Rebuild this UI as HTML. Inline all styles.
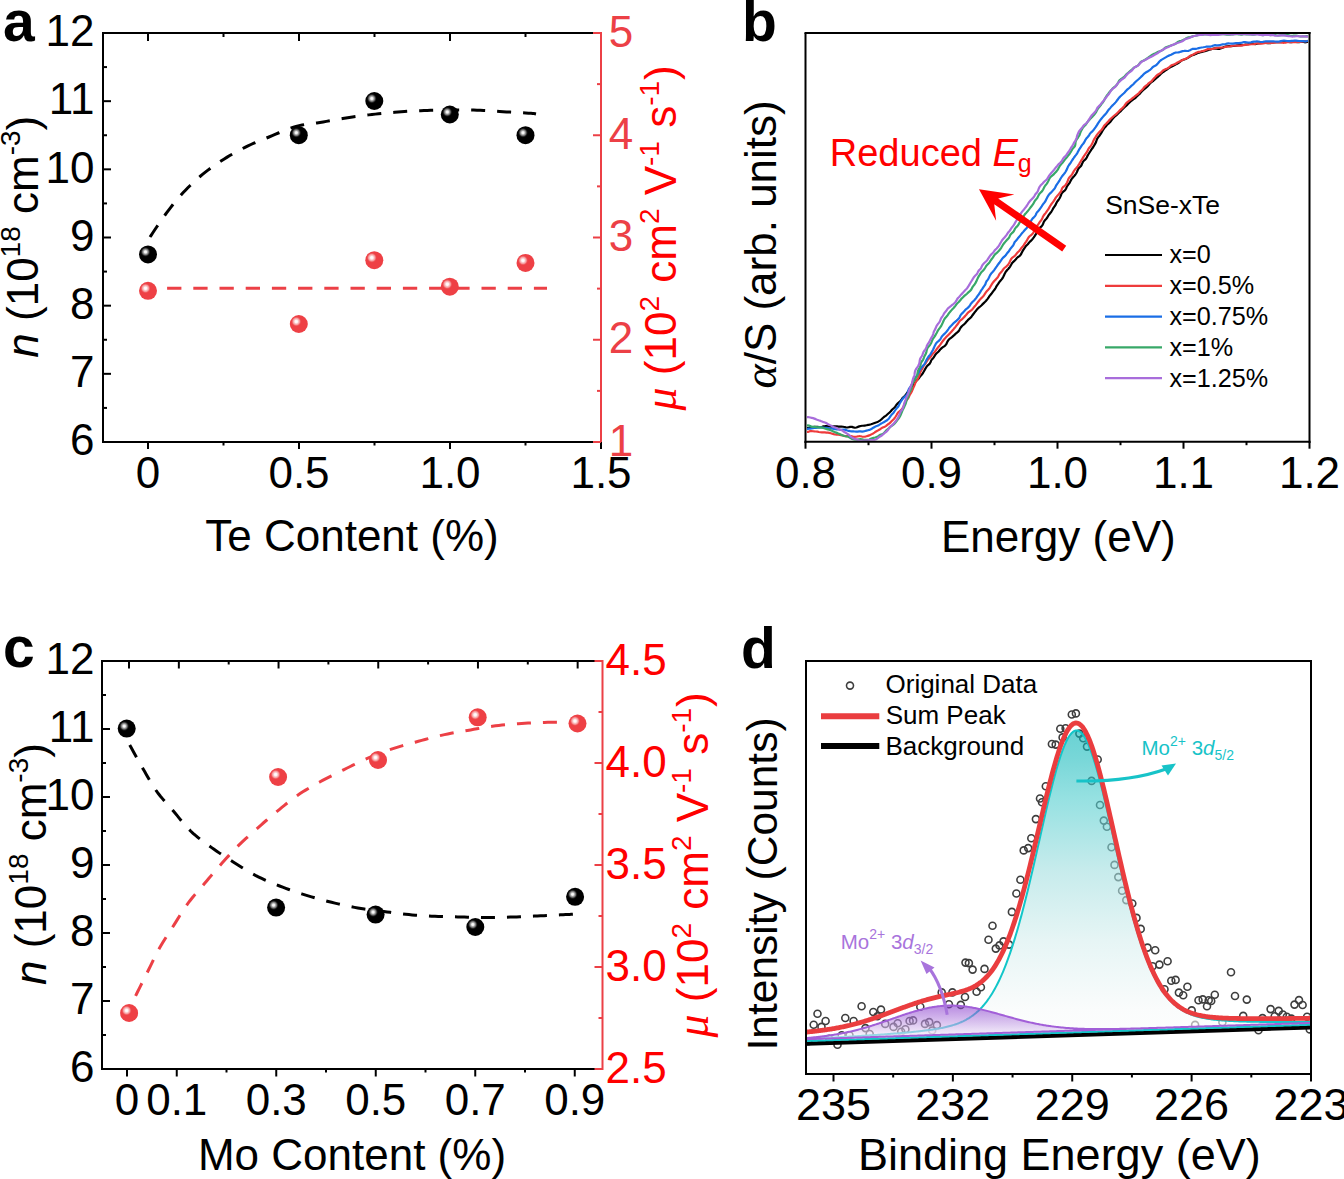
<!DOCTYPE html>
<html><head><meta charset="utf-8"><style>html,body{margin:0;padding:0;background:#fff;}svg{display:block;}</style></head>
<body><svg width="1344" height="1179" viewBox="0 0 1344 1179" font-family='"Liberation Sans", sans-serif'>
<rect width="1344" height="1179" fill="#fff"/>
<defs>
<radialGradient id="hb" cx="0.5" cy="0.5" r="0.5"><stop offset="0" stop-color="#ffffff" stop-opacity="1"/><stop offset="0.22" stop-color="#f0f0f0" stop-opacity="1"/><stop offset="0.6" stop-color="#909090" stop-opacity="0.75"/><stop offset="1" stop-color="#000000" stop-opacity="0"/></radialGradient>
<radialGradient id="hr" cx="0.5" cy="0.5" r="0.5"><stop offset="0" stop-color="#ffffff" stop-opacity="1"/><stop offset="0.25" stop-color="#ffffff" stop-opacity="0.95"/><stop offset="0.65" stop-color="#fbd0d0" stop-opacity="0.6"/><stop offset="1" stop-color="#ee4045" stop-opacity="0"/></radialGradient>
<linearGradient id="gcy" x1="0" y1="0" x2="0" y2="1"><stop offset="0" stop-color="rgb(5,180,182)" stop-opacity="0.6"/><stop offset="0.09" stop-color="rgb(30,188,190)" stop-opacity="0.6"/><stop offset="0.22" stop-color="rgb(80,205,206)" stop-opacity="0.6"/><stop offset="0.447" stop-color="rgb(160,222,223)" stop-opacity="0.6"/><stop offset="0.673" stop-color="rgb(213,238,238)" stop-opacity="0.6"/><stop offset="0.9" stop-color="rgb(247,250,250)" stop-opacity="0.6"/><stop offset="1" stop-color="rgb(252,253,253)" stop-opacity="0.6"/></linearGradient>
<linearGradient id="gpu" x1="0" y1="0" x2="0" y2="1"><stop offset="0" stop-color="#8232ca" stop-opacity="0.56"/><stop offset="1" stop-color="#ffffff" stop-opacity="0.6"/></linearGradient>
<clipPath id="clipb"><rect x="806.5" y="34" width="502" height="406.7"/></clipPath>
<clipPath id="clipd"><rect x="807" y="662" width="503" height="411"/></clipPath>
</defs>
<line x1="102.00" y1="33.00" x2="601.00" y2="33.00" stroke="#000" stroke-width="2" />
<line x1="103.00" y1="33.00" x2="103.00" y2="443.00" stroke="#000" stroke-width="2" />
<line x1="102.00" y1="442.00" x2="601.00" y2="442.00" stroke="#000" stroke-width="2" />
<line x1="601.00" y1="32.00" x2="601.00" y2="443.00" stroke="#ec4046" stroke-width="2" />
<line x1="148.00" y1="442.00" x2="148.00" y2="449.00" stroke="#000" stroke-width="2" />
<line x1="148.00" y1="33.00" x2="148.00" y2="41.00" stroke="#000" stroke-width="2" />
<line x1="223.50" y1="442.00" x2="223.50" y2="445.50" stroke="#000" stroke-width="2" />
<line x1="223.50" y1="33.00" x2="223.50" y2="37.00" stroke="#000" stroke-width="2" />
<line x1="299.00" y1="442.00" x2="299.00" y2="449.00" stroke="#000" stroke-width="2" />
<line x1="299.00" y1="33.00" x2="299.00" y2="41.00" stroke="#000" stroke-width="2" />
<line x1="374.50" y1="442.00" x2="374.50" y2="445.50" stroke="#000" stroke-width="2" />
<line x1="374.50" y1="33.00" x2="374.50" y2="37.00" stroke="#000" stroke-width="2" />
<line x1="450.00" y1="442.00" x2="450.00" y2="449.00" stroke="#000" stroke-width="2" />
<line x1="450.00" y1="33.00" x2="450.00" y2="41.00" stroke="#000" stroke-width="2" />
<line x1="525.50" y1="442.00" x2="525.50" y2="445.50" stroke="#000" stroke-width="2" />
<line x1="525.50" y1="33.00" x2="525.50" y2="37.00" stroke="#000" stroke-width="2" />
<line x1="601.00" y1="442.00" x2="601.00" y2="449.00" stroke="#000" stroke-width="2" />
<line x1="103.00" y1="407.92" x2="107.00" y2="407.92" stroke="#000" stroke-width="2" />
<line x1="103.00" y1="373.83" x2="111.00" y2="373.83" stroke="#000" stroke-width="2" />
<line x1="103.00" y1="339.75" x2="107.00" y2="339.75" stroke="#000" stroke-width="2" />
<line x1="103.00" y1="305.67" x2="111.00" y2="305.67" stroke="#000" stroke-width="2" />
<line x1="103.00" y1="271.58" x2="107.00" y2="271.58" stroke="#000" stroke-width="2" />
<line x1="103.00" y1="237.50" x2="111.00" y2="237.50" stroke="#000" stroke-width="2" />
<line x1="103.00" y1="203.42" x2="107.00" y2="203.42" stroke="#000" stroke-width="2" />
<line x1="103.00" y1="169.33" x2="111.00" y2="169.33" stroke="#000" stroke-width="2" />
<line x1="103.00" y1="135.25" x2="107.00" y2="135.25" stroke="#000" stroke-width="2" />
<line x1="103.00" y1="101.17" x2="111.00" y2="101.17" stroke="#000" stroke-width="2" />
<line x1="103.00" y1="67.08" x2="107.00" y2="67.08" stroke="#000" stroke-width="2" />
<line x1="601.00" y1="442.00" x2="593.00" y2="442.00" stroke="#ec4046" stroke-width="2" />
<line x1="601.00" y1="390.88" x2="597.00" y2="390.88" stroke="#ec4046" stroke-width="2" />
<line x1="601.00" y1="339.75" x2="593.00" y2="339.75" stroke="#ec4046" stroke-width="2" />
<line x1="601.00" y1="288.62" x2="597.00" y2="288.62" stroke="#ec4046" stroke-width="2" />
<line x1="601.00" y1="237.50" x2="593.00" y2="237.50" stroke="#ec4046" stroke-width="2" />
<line x1="601.00" y1="186.38" x2="597.00" y2="186.38" stroke="#ec4046" stroke-width="2" />
<line x1="601.00" y1="135.25" x2="593.00" y2="135.25" stroke="#ec4046" stroke-width="2" />
<line x1="601.00" y1="84.12" x2="597.00" y2="84.12" stroke="#ec4046" stroke-width="2" />
<line x1="601.00" y1="33.00" x2="593.00" y2="33.00" stroke="#ec4046" stroke-width="2" />
<text x="94.50" y="455.30" font-size="44" text-anchor="end" fill="#000" >6</text>
<text x="94.50" y="387.13" font-size="44" text-anchor="end" fill="#000" >7</text>
<text x="94.50" y="318.97" font-size="44" text-anchor="end" fill="#000" >8</text>
<text x="94.50" y="250.80" font-size="44" text-anchor="end" fill="#000" >9</text>
<text x="94.50" y="182.63" font-size="44" text-anchor="end" fill="#000" >10</text>
<text x="94.50" y="114.47" font-size="44" text-anchor="end" fill="#000" >11</text>
<text x="94.50" y="46.30" font-size="44" text-anchor="end" fill="#000" >12</text>
<text x="608.70" y="455.60" font-size="44" text-anchor="start" fill="#ec4046" >1</text>
<text x="608.70" y="353.35" font-size="44" text-anchor="start" fill="#ec4046" >2</text>
<text x="608.70" y="251.10" font-size="44" text-anchor="start" fill="#ec4046" >3</text>
<text x="608.70" y="148.85" font-size="44" text-anchor="start" fill="#ec4046" >4</text>
<text x="608.70" y="46.60" font-size="44" text-anchor="start" fill="#ec4046" >5</text>
<text x="148.00" y="487.80" font-size="44" text-anchor="middle" fill="#000" >0</text>
<text x="299.00" y="487.80" font-size="44" text-anchor="middle" fill="#000" >0.5</text>
<text x="450.00" y="487.80" font-size="44" text-anchor="middle" fill="#000" >1.0</text>
<text x="601.00" y="487.80" font-size="44" text-anchor="middle" fill="#000" >1.5</text>
<text x="352.00" y="551.00" font-size="44" text-anchor="middle" fill="#000" >Te Content (%)</text>
<text transform="translate(38.3,357.7) rotate(-90)" font-size="44" fill="#000"><tspan font-style="italic">n</tspan> (10<tspan font-size="28" dy="-18.5">18</tspan><tspan dy="18.5"> cm</tspan><tspan font-size="28" dy="-18.5">-3</tspan><tspan dy="18.5">)</tspan></text>
<text transform="translate(676.3,410.5) rotate(-90)" font-size="44" fill="#ff0000"><tspan font-family="Liberation Serif" font-style="italic" font-size="46">μ</tspan> (10<tspan font-size="28" dy="-17.5">2</tspan><tspan dx="1" dy="17.5"> cm</tspan><tspan font-size="28" dy="-17.5">2</tspan><tspan dx="1" dy="17.5"> V</tspan><tspan font-size="28" dy="-17.5">-1</tspan><tspan dx="1" dy="17.5"> s</tspan><tspan font-size="28" dy="-17.5">-1</tspan><tspan dx="1" dy="17.5">)</tspan></text>
<text x="3.00" y="41.00" font-size="57" text-anchor="start" fill="#000" font-weight="bold">a</text>
<path d="M150.00,237.00 L151.15,235.29 L152.67,233.00 L154.48,230.27 L156.50,227.25 L158.64,224.07 L160.83,220.88 L162.97,217.80 L165.00,215.00 L166.93,212.39 L168.86,209.82 L170.79,207.29 L172.75,204.78 L174.74,202.30 L176.77,199.85 L178.85,197.41 L181.00,195.00 L183.22,192.60 L185.49,190.20 L187.82,187.82 L190.19,185.47 L192.60,183.15 L195.04,180.88 L197.51,178.66 L200.00,176.50 L202.51,174.41 L205.04,172.37 L207.60,170.39 L210.19,168.45 L212.82,166.55 L215.49,164.68 L218.22,162.83 L221.00,161.00 L223.86,159.18 L226.79,157.37 L229.78,155.58 L232.81,153.82 L235.87,152.11 L238.93,150.44 L241.98,148.84 L245.00,147.30 L247.98,145.85 L250.93,144.49 L253.87,143.20 L256.81,141.96 L259.78,140.74 L262.79,139.52 L265.86,138.28 L269.00,137.00 L272.25,135.64 L275.61,134.21 L279.04,132.75 L282.50,131.30 L285.96,129.90 L289.39,128.59 L292.75,127.41 L296.00,126.40 L299.13,125.60 L302.16,124.97 L305.13,124.47 L308.06,124.07 L310.99,123.71 L313.93,123.36 L316.92,122.97 L320.00,122.50 L323.15,121.96 L326.36,121.39 L329.60,120.81 L332.88,120.22 L336.16,119.64 L339.45,119.07 L342.74,118.52 L346.00,118.00 L349.25,117.51 L352.50,117.03 L355.75,116.57 L359.00,116.12 L362.25,115.70 L365.50,115.28 L368.75,114.88 L372.00,114.50 L375.25,114.13 L378.50,113.78 L381.75,113.45 L385.00,113.12 L388.25,112.82 L391.50,112.53 L394.75,112.26 L398.00,112.00 L401.25,111.76 L404.50,111.53 L407.75,111.32 L411.00,111.12 L414.25,110.95 L417.50,110.78 L420.75,110.63 L424.00,110.50 L427.24,110.38 L430.48,110.29 L433.71,110.21 L436.94,110.14 L440.18,110.09 L443.43,110.05 L446.70,110.02 L450.00,110.00 L453.33,109.98 L456.70,109.97 L460.10,109.97 L463.50,109.97 L466.90,110.00 L470.30,110.04 L473.67,110.11 L477.00,110.20 L480.28,110.32 L483.52,110.48 L486.74,110.66 L489.94,110.86 L493.15,111.07 L496.38,111.29 L499.66,111.50 L503.00,111.70 L506.56,111.90 L510.40,112.11 L514.36,112.33 L518.31,112.55 L522.10,112.76 L525.57,112.96 L528.59,113.14 L531.00,113.30 L532.76,113.44 L533.98,113.55 L534.78,113.66 L535.25,113.75 L535.50,113.83 L535.64,113.90 L535.77,113.95 L536.00,114.00" fill="none" stroke="#000" stroke-width="3" stroke-dasharray="14 12"/>
<path d="M140.9,288.3 L547,288.3" fill="none" stroke="#ec4046" stroke-width="3" stroke-dasharray="14.3 11.9"/>
<circle cx="148.00" cy="254.40" r="9" fill="#000"/>
<circle cx="145.50" cy="251.90" r="5.2" fill="url(#hb)"/>
<circle cx="298.80" cy="135.20" r="9" fill="#000"/>
<circle cx="296.30" cy="132.70" r="5.2" fill="url(#hb)"/>
<circle cx="374.30" cy="101.00" r="9" fill="#000"/>
<circle cx="371.80" cy="98.50" r="5.2" fill="url(#hb)"/>
<circle cx="449.80" cy="114.50" r="9" fill="#000"/>
<circle cx="447.30" cy="112.00" r="5.2" fill="url(#hb)"/>
<circle cx="525.50" cy="135.20" r="9" fill="#000"/>
<circle cx="523.00" cy="132.70" r="5.2" fill="url(#hb)"/>
<circle cx="148.00" cy="290.80" r="9" fill="#ee4045"/>
<circle cx="145.50" cy="288.30" r="5.2" fill="url(#hr)"/>
<circle cx="298.80" cy="324.00" r="9" fill="#ee4045"/>
<circle cx="296.30" cy="321.50" r="5.2" fill="url(#hr)"/>
<circle cx="374.30" cy="260.20" r="9" fill="#ee4045"/>
<circle cx="371.80" cy="257.70" r="5.2" fill="url(#hr)"/>
<circle cx="449.80" cy="286.70" r="9" fill="#ee4045"/>
<circle cx="447.30" cy="284.20" r="5.2" fill="url(#hr)"/>
<circle cx="525.50" cy="262.90" r="9" fill="#ee4045"/>
<circle cx="523.00" cy="260.40" r="5.2" fill="url(#hr)"/>
<line x1="101.00" y1="661.00" x2="602.50" y2="661.00" stroke="#000" stroke-width="2" />
<line x1="102.00" y1="661.00" x2="102.00" y2="1070.00" stroke="#000" stroke-width="2" />
<line x1="101.00" y1="1069.00" x2="602.50" y2="1069.00" stroke="#000" stroke-width="2" />
<line x1="602.50" y1="660.00" x2="602.50" y2="1070.00" stroke="#ec4046" stroke-width="2" />
<line x1="127.00" y1="1069.00" x2="127.00" y2="1076.50" stroke="#000" stroke-width="2" />
<line x1="129.00" y1="661.00" x2="129.00" y2="668.50" stroke="#000" stroke-width="2" />
<line x1="176.75" y1="1069.00" x2="176.75" y2="1076.50" stroke="#000" stroke-width="2" />
<line x1="178.85" y1="661.00" x2="178.85" y2="668.50" stroke="#000" stroke-width="2" />
<line x1="226.50" y1="1069.00" x2="226.50" y2="1072.50" stroke="#000" stroke-width="2" />
<line x1="228.70" y1="661.00" x2="228.70" y2="664.50" stroke="#000" stroke-width="2" />
<line x1="276.25" y1="1069.00" x2="276.25" y2="1076.50" stroke="#000" stroke-width="2" />
<line x1="278.55" y1="661.00" x2="278.55" y2="668.50" stroke="#000" stroke-width="2" />
<line x1="326.00" y1="1069.00" x2="326.00" y2="1072.50" stroke="#000" stroke-width="2" />
<line x1="328.40" y1="661.00" x2="328.40" y2="664.50" stroke="#000" stroke-width="2" />
<line x1="375.75" y1="1069.00" x2="375.75" y2="1076.50" stroke="#000" stroke-width="2" />
<line x1="378.25" y1="661.00" x2="378.25" y2="668.50" stroke="#000" stroke-width="2" />
<line x1="425.50" y1="1069.00" x2="425.50" y2="1072.50" stroke="#000" stroke-width="2" />
<line x1="428.10" y1="661.00" x2="428.10" y2="664.50" stroke="#000" stroke-width="2" />
<line x1="475.25" y1="1069.00" x2="475.25" y2="1076.50" stroke="#000" stroke-width="2" />
<line x1="477.95" y1="661.00" x2="477.95" y2="668.50" stroke="#000" stroke-width="2" />
<line x1="525.00" y1="1069.00" x2="525.00" y2="1072.50" stroke="#000" stroke-width="2" />
<line x1="527.80" y1="661.00" x2="527.80" y2="664.50" stroke="#000" stroke-width="2" />
<line x1="574.75" y1="1069.00" x2="574.75" y2="1076.50" stroke="#000" stroke-width="2" />
<line x1="577.65" y1="661.00" x2="577.65" y2="668.50" stroke="#000" stroke-width="2" />
<line x1="102.00" y1="1035.00" x2="106.00" y2="1035.00" stroke="#000" stroke-width="2" />
<line x1="102.00" y1="1001.00" x2="110.00" y2="1001.00" stroke="#000" stroke-width="2" />
<line x1="102.00" y1="967.00" x2="106.00" y2="967.00" stroke="#000" stroke-width="2" />
<line x1="102.00" y1="933.00" x2="110.00" y2="933.00" stroke="#000" stroke-width="2" />
<line x1="102.00" y1="899.00" x2="106.00" y2="899.00" stroke="#000" stroke-width="2" />
<line x1="102.00" y1="865.00" x2="110.00" y2="865.00" stroke="#000" stroke-width="2" />
<line x1="102.00" y1="831.00" x2="106.00" y2="831.00" stroke="#000" stroke-width="2" />
<line x1="102.00" y1="797.00" x2="110.00" y2="797.00" stroke="#000" stroke-width="2" />
<line x1="102.00" y1="763.00" x2="106.00" y2="763.00" stroke="#000" stroke-width="2" />
<line x1="102.00" y1="729.00" x2="110.00" y2="729.00" stroke="#000" stroke-width="2" />
<line x1="102.00" y1="695.00" x2="106.00" y2="695.00" stroke="#000" stroke-width="2" />
<line x1="602.50" y1="1069.00" x2="594.50" y2="1069.00" stroke="#ec4046" stroke-width="2" />
<line x1="602.50" y1="1018.00" x2="598.50" y2="1018.00" stroke="#ec4046" stroke-width="2" />
<line x1="602.50" y1="967.00" x2="594.50" y2="967.00" stroke="#ec4046" stroke-width="2" />
<line x1="602.50" y1="916.00" x2="598.50" y2="916.00" stroke="#ec4046" stroke-width="2" />
<line x1="602.50" y1="865.00" x2="594.50" y2="865.00" stroke="#ec4046" stroke-width="2" />
<line x1="602.50" y1="814.00" x2="598.50" y2="814.00" stroke="#ec4046" stroke-width="2" />
<line x1="602.50" y1="763.00" x2="594.50" y2="763.00" stroke="#ec4046" stroke-width="2" />
<line x1="602.50" y1="712.00" x2="598.50" y2="712.00" stroke="#ec4046" stroke-width="2" />
<line x1="602.50" y1="661.00" x2="594.50" y2="661.00" stroke="#ec4046" stroke-width="2" />
<text x="94.50" y="1082.30" font-size="44" text-anchor="end" fill="#000" >6</text>
<text x="94.50" y="1014.30" font-size="44" text-anchor="end" fill="#000" >7</text>
<text x="94.50" y="946.30" font-size="44" text-anchor="end" fill="#000" >8</text>
<text x="94.50" y="878.30" font-size="44" text-anchor="end" fill="#000" >9</text>
<text x="94.50" y="810.30" font-size="44" text-anchor="end" fill="#000" >10</text>
<text x="94.50" y="742.30" font-size="44" text-anchor="end" fill="#000" >11</text>
<text x="94.50" y="674.30" font-size="44" text-anchor="end" fill="#000" >12</text>
<text x="605.50" y="1082.50" font-size="44" text-anchor="start" fill="#ff0000" >2.5</text>
<text x="605.50" y="980.50" font-size="44" text-anchor="start" fill="#ff0000" >3.0</text>
<text x="605.50" y="878.50" font-size="44" text-anchor="start" fill="#ff0000" >3.5</text>
<text x="605.50" y="776.50" font-size="44" text-anchor="start" fill="#ff0000" >4.0</text>
<text x="605.50" y="674.50" font-size="44" text-anchor="start" fill="#ff0000" >4.5</text>
<text x="127.00" y="1115.00" font-size="44" text-anchor="middle" fill="#000" >0</text>
<text x="176.75" y="1115.00" font-size="44" text-anchor="middle" fill="#000" >0.1</text>
<text x="276.25" y="1115.00" font-size="44" text-anchor="middle" fill="#000" >0.3</text>
<text x="375.75" y="1115.00" font-size="44" text-anchor="middle" fill="#000" >0.5</text>
<text x="475.25" y="1115.00" font-size="44" text-anchor="middle" fill="#000" >0.7</text>
<text x="574.75" y="1115.00" font-size="44" text-anchor="middle" fill="#000" >0.9</text>
<text x="352.00" y="1170.00" font-size="44" text-anchor="middle" fill="#000" >Mo Content (%)</text>
<text transform="translate(46.3,985) rotate(-90)" font-size="44" fill="#000"><tspan font-style="italic">n</tspan> (10<tspan font-size="28" dy="-18.5">18</tspan><tspan dy="18.5"> cm</tspan><tspan font-size="28" dy="-18.5">-3</tspan><tspan dy="18.5">)</tspan></text>
<text transform="translate(708,1037.5) rotate(-90)" font-size="44" fill="#ff0000"><tspan font-family="Liberation Serif" font-style="italic" font-size="46">μ</tspan> (10<tspan font-size="28" dy="-17.5">2</tspan><tspan dx="1" dy="17.5"> cm</tspan><tspan font-size="28" dy="-17.5">2</tspan><tspan dx="1" dy="17.5"> V</tspan><tspan font-size="28" dy="-17.5">-1</tspan><tspan dx="1" dy="17.5"> s</tspan><tspan font-size="28" dy="-17.5">-1</tspan><tspan dx="1" dy="17.5">)</tspan></text>
<text x="3.00" y="667.00" font-size="57" text-anchor="start" fill="#000" font-weight="bold">c</text>
<path d="M129.70,745.00 L130.73,746.84 L132.09,749.29 L133.71,752.21 L135.51,755.46 L137.42,758.87 L139.36,762.32 L141.24,765.64 L143.00,768.70 L144.65,771.58 L146.28,774.45 L147.89,777.30 L149.51,780.13 L151.16,782.93 L152.84,785.68 L154.59,788.37 L156.40,791.00 L158.29,793.54 L160.23,795.98 L162.23,798.36 L164.27,800.69 L166.34,803.02 L168.44,805.36 L170.57,807.74 L172.70,810.20 L174.84,812.75 L177.00,815.39 L179.17,818.08 L181.37,820.78 L183.61,823.45 L185.89,826.07 L188.22,828.60 L190.60,831.00 L193.04,833.27 L195.54,835.45 L198.09,837.54 L200.67,839.58 L203.30,841.56 L205.95,843.52 L208.62,845.46 L211.30,847.40 L214.01,849.34 L216.76,851.25 L219.55,853.13 L222.35,854.99 L225.17,856.82 L227.99,858.64 L230.80,860.43 L233.60,862.20 L236.38,863.96 L239.14,865.72 L241.90,867.46 L244.66,869.18 L247.43,870.86 L250.23,872.49 L253.05,874.08 L255.90,875.60 L258.78,877.05 L261.69,878.45 L264.61,879.79 L267.56,881.08 L270.53,882.34 L273.53,883.58 L276.55,884.79 L279.60,886.00 L282.68,887.19 L285.78,888.37 L288.91,889.51 L292.06,890.64 L295.24,891.74 L298.44,892.82 L301.66,893.87 L304.90,894.90 L308.17,895.91 L311.49,896.90 L314.83,897.86 L318.19,898.80 L321.56,899.72 L324.93,900.60 L328.28,901.47 L331.60,902.30 L334.90,903.11 L338.19,903.90 L341.47,904.66 L344.74,905.39 L348.00,906.10 L351.27,906.77 L354.53,907.40 L357.80,908.00 L361.07,908.55 L364.36,909.04 L367.64,909.49 L370.93,909.91 L374.20,910.31 L377.45,910.70 L380.69,911.10 L383.90,911.50 L387.07,911.92 L390.20,912.34 L393.31,912.75 L396.40,913.16 L399.49,913.56 L402.60,913.93 L405.73,914.28 L408.90,914.60 L412.11,914.89 L415.35,915.15 L418.61,915.38 L421.88,915.60 L425.16,915.80 L428.45,915.98 L431.73,916.14 L435.00,916.30 L438.26,916.44 L441.52,916.55 L444.79,916.64 L448.05,916.72 L451.31,916.80 L454.57,916.86 L457.84,916.93 L461.10,917.00 L464.36,917.08 L467.62,917.16 L470.89,917.25 L474.15,917.33 L477.41,917.39 L480.68,917.45 L483.94,917.49 L487.20,917.50 L490.45,917.49 L493.70,917.46 L496.93,917.42 L500.17,917.36 L503.42,917.28 L506.69,917.20 L509.98,917.10 L513.30,917.00 L516.67,916.88 L520.09,916.75 L523.55,916.60 L527.02,916.44 L530.48,916.28 L533.91,916.12 L537.29,915.95 L540.60,915.80 L543.93,915.65 L547.35,915.49 L550.77,915.32 L554.14,915.16 L557.37,915.01 L560.41,914.86 L563.18,914.72 L565.60,914.60 L567.69,914.49 L569.53,914.39 L571.13,914.30 L572.51,914.23 L573.70,914.15 L574.71,914.09 L575.57,914.04 L576.30,914.00" fill="none" stroke="#000" stroke-width="3" stroke-dasharray="14 12"/>
<path d="M135.60,995.80 L136.52,993.96 L137.74,991.52 L139.19,988.61 L140.81,985.38 L142.51,981.96 L144.25,978.50 L145.93,975.13 L147.50,972.00 L148.97,969.03 L150.41,966.07 L151.84,963.11 L153.27,960.14 L154.73,957.18 L156.22,954.22 L157.77,951.26 L159.40,948.30 L161.12,945.32 L162.93,942.31 L164.80,939.29 L166.71,936.27 L168.63,933.28 L170.53,930.32 L172.40,927.42 L174.20,924.60 L175.93,921.84 L177.62,919.13 L179.27,916.46 L180.90,913.83 L182.53,911.25 L184.18,908.72 L185.87,906.24 L187.60,903.80 L189.36,901.45 L191.13,899.21 L192.92,897.04 L194.72,894.90 L196.57,892.76 L198.46,890.59 L200.40,888.35 L202.40,886.00 L204.49,883.52 L206.67,880.94 L208.92,878.29 L211.20,875.60 L213.50,872.91 L215.78,870.26 L218.02,867.68 L220.20,865.20 L222.30,862.83 L224.33,860.54 L226.33,858.31 L228.31,856.12 L230.30,853.95 L232.33,851.79 L234.42,849.61 L236.60,847.40 L238.86,845.17 L241.19,842.93 L243.56,840.69 L245.97,838.45 L248.43,836.21 L250.90,833.97 L253.40,831.73 L255.90,829.50 L258.43,827.26 L261.00,825.01 L263.59,822.75 L266.21,820.50 L268.84,818.26 L271.47,816.04 L274.09,813.85 L276.70,811.70 L279.28,809.57 L281.84,807.45 L284.40,805.35 L286.96,803.28 L289.52,801.23 L292.11,799.24 L294.74,797.29 L297.40,795.40 L300.10,793.58 L302.82,791.82 L305.57,790.11 L308.35,788.44 L311.15,786.81 L313.97,785.20 L316.82,783.60 L319.70,782.00 L322.60,780.42 L325.54,778.86 L328.50,777.32 L331.49,775.81 L334.49,774.30 L337.52,772.80 L340.55,771.30 L343.60,769.80 L346.67,768.28 L349.78,766.74 L352.92,765.19 L356.06,763.65 L359.21,762.14 L362.34,760.66 L365.44,759.25 L368.50,757.90 L371.50,756.63 L374.45,755.41 L377.37,754.25 L380.27,753.13 L383.18,752.05 L386.13,750.98 L389.13,749.94 L392.20,748.90 L395.36,747.88 L398.58,746.88 L401.85,745.91 L405.15,744.96 L408.47,744.02 L411.80,743.10 L415.11,742.20 L418.40,741.30 L421.67,740.41 L424.93,739.51 L428.19,738.63 L431.46,737.77 L434.72,736.93 L437.98,736.11 L441.24,735.34 L444.50,734.60 L447.77,733.91 L451.05,733.27 L454.34,732.66 L457.63,732.09 L460.90,731.53 L464.16,730.99 L467.39,730.45 L470.60,729.90 L473.76,729.35 L476.88,728.79 L479.97,728.24 L483.05,727.70 L486.13,727.18 L489.22,726.68 L492.34,726.22 L495.50,725.80 L498.70,725.42 L501.94,725.07 L505.20,724.76 L508.47,724.47 L511.75,724.20 L515.04,723.96 L518.32,723.72 L521.60,723.50 L524.85,723.29 L528.07,723.09 L531.29,722.91 L534.51,722.74 L537.75,722.60 L541.04,722.48 L544.38,722.38 L547.80,722.30 L551.51,722.26 L555.57,722.26 L559.81,722.28 L564.04,722.32 L568.06,722.38 L571.68,722.43 L574.73,722.47 L577.00,722.50" fill="none" stroke="#ec4046" stroke-width="3" stroke-dasharray="14 12"/>
<circle cx="126.70" cy="728.60" r="9" fill="#000"/>
<circle cx="124.20" cy="726.10" r="5.2" fill="url(#hb)"/>
<circle cx="276.10" cy="907.60" r="9" fill="#000"/>
<circle cx="273.60" cy="905.10" r="5.2" fill="url(#hb)"/>
<circle cx="375.60" cy="914.60" r="9" fill="#000"/>
<circle cx="373.10" cy="912.10" r="5.2" fill="url(#hb)"/>
<circle cx="475.30" cy="927.00" r="9" fill="#000"/>
<circle cx="472.80" cy="924.50" r="5.2" fill="url(#hb)"/>
<circle cx="575.10" cy="896.80" r="9" fill="#000"/>
<circle cx="572.60" cy="894.30" r="5.2" fill="url(#hb)"/>
<circle cx="129.10" cy="1013.00" r="9" fill="#ee4045"/>
<circle cx="126.60" cy="1010.50" r="5.2" fill="url(#hr)"/>
<circle cx="278.10" cy="777.00" r="9" fill="#ee4045"/>
<circle cx="275.60" cy="774.50" r="5.2" fill="url(#hr)"/>
<circle cx="378.00" cy="760.00" r="9" fill="#ee4045"/>
<circle cx="375.50" cy="757.50" r="5.2" fill="url(#hr)"/>
<circle cx="477.70" cy="717.30" r="9" fill="#ee4045"/>
<circle cx="475.20" cy="714.80" r="5.2" fill="url(#hr)"/>
<circle cx="577.50" cy="723.50" r="9" fill="#ee4045"/>
<circle cx="575.00" cy="721.00" r="5.2" fill="url(#hr)"/>
<g clip-path="url(#clipb)">
<path d="M806.99,428.04 L807.86,427.96 L808.94,427.71 L810.19,427.39 L811.57,427.24 L813.02,427.11 L814.49,426.85 L815.98,426.75 L817.49,426.92 L819.01,427.10 L820.51,427.04 L821.99,426.77 L823.47,426.45 L824.96,426.22 L826.47,426.17 L827.98,426.29 L829.48,426.48 L830.97,426.54 L832.47,426.44 L833.97,426.35 L835.48,426.36 L836.98,426.44 L838.48,426.55 L839.98,426.63 L841.49,426.66 L842.99,426.75 L844.46,427.01 L845.94,427.38 L847.43,427.49 L848.94,427.17 L850.43,426.81 L851.91,426.88 L853.41,427.41 L854.94,427.76 L856.41,427.47 L857.84,426.90 L859.25,426.41 L860.69,426.02 L862.16,425.75 L863.69,425.67 L865.20,425.55 L866.67,425.21 L868.13,424.87 L869.60,424.57 L871.06,424.21 L872.50,423.77 L873.90,423.24 L875.29,422.69 L876.71,422.22 L878.10,421.67 L879.38,420.90 L880.59,420.02 L881.75,419.08 L882.83,418.03 L883.95,417.03 L885.19,416.19 L886.42,415.31 L887.52,414.29 L888.62,413.26 L889.77,412.29 L890.81,411.22 L891.77,410.05 L892.82,408.97 L893.97,408.00 L895.04,406.95 L895.92,405.71 L896.77,404.45 L897.79,403.35 L898.93,402.36 L900.08,401.38 L901.06,400.24 L901.90,398.99 L902.83,397.80 L903.90,396.74 L905.03,395.73 L906.03,394.60 L906.85,393.33 L907.66,392.06 L908.56,390.86 L909.41,389.62 L910.20,388.33 L911.16,387.17 L912.24,386.11 L913.20,384.95 L914.05,383.71 L914.88,382.45 L915.83,381.29 L916.93,380.24 L918.03,379.18 L918.98,378.02 L919.85,376.79 L920.82,375.64 L921.86,374.54 L922.74,373.33 L923.51,372.02 L924.26,370.71 L925.00,369.38 L925.75,368.07 L926.53,366.78 L927.47,365.61 L928.66,364.61 L929.78,363.57 L930.51,362.25 L931.05,360.78 L931.85,359.50 L932.90,358.40 L933.84,357.23 L934.64,355.95 L935.43,354.65 L936.40,353.49 L937.53,352.48 L938.62,351.43 L939.59,350.27 L940.57,349.13 L941.67,348.10 L942.88,347.17 L944.18,346.32 L945.37,345.39 L946.28,344.18 L946.93,342.74 L947.60,341.31 L948.44,340.03 L949.49,338.95 L950.71,338.04 L951.92,337.11 L953.04,336.11 L954.17,335.11 L955.27,334.08 L956.38,333.06 L957.55,332.11 L958.65,331.08 L959.47,329.79 L960.17,328.37 L961.03,327.12 L962.07,326.03 L963.20,325.03 L964.36,324.06 L965.41,322.99 L966.38,321.83 L967.35,320.68 L968.35,319.56 L969.51,318.59 L970.70,317.65 L971.66,316.49 L972.52,315.23 L973.42,314.02 L974.32,312.81 L975.26,311.64 L976.20,310.46 L977.11,309.25 L978.15,308.17 L979.34,307.22 L980.50,306.24 L981.61,305.21 L982.67,304.15 L983.75,303.10 L984.85,302.06 L985.88,300.96 L986.86,299.83 L987.81,298.66 L988.64,297.39 L989.44,296.10 L990.39,294.94 L991.38,293.81 L992.25,292.59 L993.11,291.35 L994.06,290.19 L995.01,289.02 L995.76,287.72 L996.43,286.36 L997.27,285.12 L998.16,283.91 L998.97,282.64 L999.84,281.41 L1000.85,280.28 L1001.86,279.14 L1002.71,277.90 L1003.41,276.57 L1004.05,275.19 L1004.68,273.80 L1005.41,272.47 L1006.24,271.22 L1007.17,270.03 L1008.21,268.93 L1009.21,267.80 L1010.07,266.56 L1010.86,265.27 L1011.60,263.94 L1012.43,262.68 L1013.50,261.61 L1014.67,260.61 L1015.68,259.50 L1016.60,258.31 L1017.71,257.28 L1019.03,256.41 L1020.23,255.45 L1021.06,254.19 L1021.71,252.78 L1022.40,251.40 L1023.16,250.09 L1023.98,248.82 L1024.81,247.56 L1025.69,246.35 L1026.73,245.25 L1027.80,244.19 L1028.75,243.02 L1029.70,241.86 L1030.83,240.83 L1031.94,239.79 L1032.89,238.62 L1033.80,237.41 L1034.64,236.17 L1035.42,234.88 L1036.20,233.59 L1036.95,232.28 L1037.73,230.99 L1038.57,229.74 L1039.38,228.48 L1040.35,227.32 L1041.55,226.32 L1042.50,225.14 L1043.09,223.73 L1043.65,222.30 L1044.39,220.98 L1045.38,219.84 L1046.43,218.73 L1047.29,217.50 L1048.03,216.19 L1048.85,214.93 L1049.76,213.72 L1050.71,212.55 L1051.60,211.34 L1052.33,210.02 L1053.03,208.68 L1053.87,207.44 L1054.76,206.22 L1055.54,204.93 L1056.16,203.55 L1056.83,202.19 L1057.71,200.96 L1058.63,199.77 L1059.43,198.50 L1060.16,197.18 L1060.76,195.78 L1061.26,194.32 L1061.96,192.98 L1063.04,191.89 L1064.30,190.91 L1065.38,189.82 L1066.10,188.50 L1066.68,187.08 L1067.38,185.74 L1068.29,184.54 L1069.23,183.36 L1070.00,182.07 L1070.68,180.72 L1071.41,179.40 L1072.28,178.17 L1073.28,177.03 L1074.34,175.93 L1075.29,174.76 L1076.11,173.50 L1076.86,172.19 L1077.46,170.79 L1078.01,169.34 L1078.83,168.09 L1079.98,167.05 L1081.02,165.93 L1081.74,164.61 L1082.33,163.19 L1082.98,161.82 L1083.92,160.64 L1085.11,159.63 L1086.16,158.52 L1086.87,157.19 L1087.52,155.82 L1088.28,154.52 L1089.07,153.25 L1089.89,151.99 L1090.70,150.72 L1091.49,149.45 L1092.38,148.23 L1093.25,147.00 L1094.02,145.71 L1094.78,144.41 L1095.55,143.12 L1096.15,141.73 L1096.58,140.26 L1097.12,138.84 L1097.94,137.57 L1098.91,136.39 L1099.84,135.20 L1100.70,133.97 L1101.45,132.67 L1102.17,131.35 L1102.92,130.04 L1103.76,128.79 L1104.73,127.64 L1105.73,126.51 L1106.65,125.32 L1107.68,124.23 L1108.88,123.28 L1110.00,122.27 L1110.91,121.07 L1111.79,119.83 L1112.74,118.66 L1113.73,117.52 L1114.80,116.46 L1115.99,115.53 L1117.13,114.55 L1118.15,113.44 L1119.27,112.44 L1120.43,111.47 L1121.43,110.35 L1122.43,109.21 L1123.47,108.13 L1124.57,107.10 L1125.74,106.16 L1126.89,105.18 L1127.94,104.10 L1128.98,103.02 L1130.07,101.98 L1131.20,100.98 L1132.36,100.03 L1133.61,99.17 L1134.85,98.30 L1135.99,97.32 L1137.06,96.26 L1138.14,95.22 L1139.27,94.23 L1140.33,93.16 L1141.26,91.95 L1142.24,90.80 L1143.37,89.81 L1144.58,88.90 L1145.75,87.95 L1146.87,86.94 L1147.94,85.89 L1148.93,84.75 L1149.88,83.57 L1150.97,82.54 L1152.19,81.63 L1153.41,80.74 L1154.55,79.76 L1155.64,78.72 L1156.74,77.71 L1157.92,76.77 L1159.05,75.79 L1160.08,74.69 L1161.11,73.58 L1162.24,72.59 L1163.48,71.73 L1164.76,70.94 L1166.00,70.10 L1167.23,69.24 L1168.48,68.42 L1169.76,67.64 L1171.05,66.88 L1172.38,66.17 L1173.73,65.52 L1175.06,64.83 L1176.39,64.14 L1177.71,63.43 L1178.97,62.60 L1180.14,61.57 L1181.33,60.58 L1182.69,59.95 L1184.17,59.56 L1185.60,59.05 L1186.93,58.36 L1188.22,57.59 L1189.47,56.73 L1190.73,55.91 L1192.12,55.31 L1193.58,54.87 L1194.99,54.34 L1196.33,53.66 L1197.70,53.04 L1199.14,52.61 L1200.61,52.29 L1202.05,51.88 L1203.48,51.41 L1204.95,51.09 L1206.41,50.74 L1207.81,50.16 L1209.24,49.63 L1210.71,49.31 L1212.18,48.97 L1213.64,48.59 L1215.14,48.43 L1216.71,48.64 L1218.28,48.92 L1219.78,48.81 L1221.22,48.31 L1222.64,47.69 L1224.07,47.08 L1225.51,46.57 L1226.98,46.26 L1228.49,46.13 L1230.01,46.13 L1231.52,46.11 L1233.02,45.98 L1234.52,45.84 L1236.01,45.62 L1237.49,45.35 L1238.98,45.16 L1240.49,45.12 L1242.00,45.14 L1243.50,44.99 L1244.98,44.71 L1246.46,44.47 L1247.95,44.26 L1249.43,43.90 L1250.91,43.55 L1252.43,43.63 L1253.96,43.99 L1255.47,44.06 L1256.96,43.78 L1258.44,43.49 L1259.94,43.27 L1261.42,42.97 L1262.91,42.67 L1264.42,42.61 L1265.93,42.80 L1267.45,43.10 L1268.97,43.28 L1270.47,43.13 L1271.95,42.73 L1273.44,42.40 L1274.94,42.25 L1276.44,42.19 L1277.94,42.16 L1279.45,42.13 L1280.95,42.07 L1282.45,41.93 L1283.94,41.72 L1285.44,41.53 L1286.95,41.52 L1288.46,41.76 L1289.97,42.05 L1291.48,42.15 L1292.98,42.02 L1294.48,41.87 L1295.98,41.99 L1297.49,42.23 L1298.99,42.15 L1300.48,41.84 L1301.96,41.75 L1303.42,42.01 L1304.81,42.28 L1306.08,42.24 L1307.16,41.99 L1308.03,41.85" fill="none" stroke="#000000" stroke-width="2.2" stroke-linejoin="round"/>
<path d="M806.97,431.95 L807.84,431.88 L808.90,431.58 L810.13,431.16 L811.52,431.03 L812.98,431.28 L814.47,431.45 L815.95,431.49 L817.44,431.68 L818.91,432.01 L820.38,432.27 L821.87,432.30 L823.38,432.30 L824.87,432.44 L826.36,432.58 L827.85,432.71 L829.34,432.91 L830.80,433.25 L832.24,433.68 L833.67,434.12 L835.13,434.47 L836.63,434.64 L838.15,434.67 L839.64,434.84 L841.10,435.17 L842.57,435.53 L844.03,435.91 L845.52,436.12 L847.03,436.14 L848.54,436.10 L850.05,436.05 L851.55,436.20 L853.02,436.58 L854.51,436.84 L856.02,436.76 L857.53,436.46 L859.03,436.22 L860.51,436.27 L862.00,436.54 L863.50,436.76 L864.99,436.68 L866.43,436.28 L867.84,435.84 L869.25,435.41 L870.59,434.79 L871.91,434.11 L873.22,433.42 L874.45,432.58 L875.65,431.69 L876.95,430.94 L878.33,430.30 L879.65,429.57 L880.86,428.70 L882.11,427.87 L883.48,427.23 L884.88,426.67 L886.13,425.85 L887.27,424.86 L888.49,423.99 L889.72,423.13 L890.80,422.09 L891.80,420.98 L892.87,419.96 L893.95,418.93 L894.88,417.75 L895.70,416.49 L896.47,415.19 L897.19,413.86 L898.06,412.65 L899.22,411.63 L900.42,410.64 L901.49,409.56 L902.47,408.40 L903.26,407.12 L903.82,405.68 L904.33,404.23 L904.95,402.85 L905.70,401.55 L906.59,400.33 L907.52,399.15 L908.37,397.90 L909.03,396.55 L909.61,395.17 L910.36,393.87 L911.17,392.60 L911.89,391.28 L912.47,389.89 L913.02,388.50 L913.65,387.13 L914.25,385.76 L914.81,384.37 L915.35,382.97 L916.02,381.62 L916.88,380.36 L917.71,379.09 L918.34,377.73 L918.90,376.35 L919.50,374.97 L919.98,373.54 L920.43,372.09 L921.07,370.72 L921.85,369.44 L922.57,368.12 L923.17,366.73 L923.89,365.40 L924.84,364.22 L925.78,363.04 L926.57,361.76 L927.32,360.45 L928.23,359.25 L929.33,358.19 L930.40,357.11 L931.22,355.86 L932.02,354.58 L933.04,353.47 L934.19,352.46 L935.23,351.38 L936.07,350.13 L936.89,348.86 L937.82,347.68 L938.78,346.53 L939.71,345.35 L940.61,344.15 L941.49,342.92 L942.36,341.70 L943.25,340.48 L944.18,339.30 L945.17,338.17 L946.20,337.08 L947.24,335.99 L948.30,334.92 L949.38,333.87 L950.43,332.80 L951.42,331.67 L952.42,330.55 L953.40,329.41 L954.35,328.25 L955.31,327.10 L956.23,325.91 L957.16,324.73 L958.10,323.55 L958.90,322.25 L959.75,321.01 L960.90,320.02 L962.13,319.10 L963.23,318.07 L964.24,316.96 L965.27,315.87 L966.28,314.75 L967.20,313.56 L968.21,312.45 L969.44,311.54 L970.74,310.70 L971.90,309.73 L972.89,308.60 L973.82,307.41 L974.78,306.26 L975.76,305.12 L976.66,303.91 L977.55,302.69 L978.48,301.51 L979.39,300.31 L980.34,299.15 L981.40,298.08 L982.49,297.04 L983.51,295.93 L984.39,294.71 L985.20,293.44 L986.04,292.19 L986.96,291.01 L988.00,289.92 L989.05,288.82 L989.91,287.59 L990.63,286.26 L991.40,284.96 L992.22,283.70 L993.07,282.46 L994.00,281.28 L995.04,280.19 L996.10,279.11 L997.13,278.00 L998.03,276.80 L998.75,275.46 L999.44,274.10 L1000.36,272.92 L1001.45,271.86 L1002.38,270.68 L1003.16,269.38 L1004.13,268.24 L1005.32,267.27 L1006.50,266.30 L1007.57,265.24 L1008.48,264.05 L1009.27,262.75 L1009.98,261.39 L1010.65,259.99 L1011.38,258.64 L1012.42,257.56 L1013.73,256.70 L1014.91,255.73 L1015.87,254.58 L1016.78,253.38 L1017.76,252.24 L1018.88,251.22 L1019.93,250.14 L1020.79,248.90 L1021.64,247.65 L1022.65,246.54 L1023.63,245.40 L1024.41,244.11 L1025.20,242.82 L1026.09,241.61 L1026.94,240.37 L1027.65,239.03 L1028.38,237.71 L1029.32,236.54 L1030.48,235.53 L1031.72,234.56 L1032.81,233.49 L1033.60,232.21 L1034.11,230.74 L1034.57,229.24 L1035.24,227.89 L1036.17,226.70 L1037.24,225.61 L1038.26,224.48 L1039.06,223.21 L1039.85,221.93 L1040.77,220.74 L1041.67,219.54 L1042.37,218.20 L1042.94,216.78 L1043.65,215.45 L1044.59,214.27 L1045.57,213.12 L1046.43,211.89 L1047.30,210.67 L1048.19,209.46 L1048.95,208.16 L1049.66,206.83 L1050.42,205.53 L1051.24,204.28 L1052.15,203.08 L1053.09,201.91 L1053.98,200.69 L1054.76,199.41 L1055.50,198.10 L1056.38,196.88 L1057.38,195.74 L1058.36,194.60 L1059.35,193.45 L1060.34,192.31 L1061.14,191.04 L1061.64,189.57 L1062.20,188.13 L1063.19,186.99 L1064.44,186.02 L1065.57,184.97 L1066.43,183.74 L1067.11,182.39 L1067.68,180.97 L1068.19,179.50 L1068.84,178.13 L1069.77,176.95 L1070.86,175.87 L1071.85,174.73 L1072.63,173.44 L1073.32,172.10 L1074.05,170.78 L1074.91,169.55 L1075.93,168.43 L1076.95,167.30 L1077.82,166.08 L1078.63,164.82 L1079.44,163.55 L1080.18,162.24 L1080.97,160.96 L1081.83,159.73 L1082.59,158.43 L1083.32,157.12 L1084.15,155.86 L1085.01,154.63 L1085.88,153.41 L1086.78,152.21 L1087.55,150.92 L1088.11,149.49 L1088.83,148.17 L1089.84,147.03 L1090.83,145.88 L1091.65,144.62 L1092.34,143.28 L1092.94,141.89 L1093.52,140.49 L1094.19,139.14 L1095.02,137.88 L1095.85,136.63 L1096.62,135.33 L1097.50,134.11 L1098.51,132.98 L1099.55,131.88 L1100.60,130.81 L1101.65,129.73 L1102.57,128.55 L1103.30,127.21 L1104.04,125.87 L1105.01,124.72 L1106.11,123.69 L1107.17,122.63 L1108.17,121.50 L1109.14,120.35 L1110.16,119.25 L1111.27,118.24 L1112.39,117.23 L1113.50,116.22 L1114.66,115.25 L1115.84,114.32 L1116.98,113.33 L1118.04,112.28 L1119.05,111.16 L1120.07,110.06 L1121.19,109.06 L1122.36,108.12 L1123.42,107.05 L1124.34,105.84 L1125.18,104.55 L1126.09,103.32 L1127.17,102.27 L1128.36,101.35 L1129.59,100.47 L1130.81,99.58 L1131.98,98.63 L1133.17,97.71 L1134.36,96.79 L1135.48,95.79 L1136.69,94.88 L1137.94,94.03 L1138.99,92.96 L1139.95,91.78 L1141.04,90.75 L1142.19,89.78 L1143.16,88.62 L1144.05,87.37 L1145.17,86.37 L1146.39,85.47 L1147.48,84.45 L1148.55,83.39 L1149.79,82.52 L1151.06,81.68 L1152.11,80.61 L1153.02,79.38 L1154.02,78.25 L1155.08,77.19 L1156.11,76.09 L1157.21,75.06 L1158.51,74.27 L1159.83,73.52 L1160.97,72.55 L1162.02,71.45 L1163.14,70.44 L1164.42,69.65 L1165.82,69.03 L1167.24,68.48 L1168.55,67.78 L1169.69,66.76 L1170.82,65.73 L1172.17,65.06 L1173.62,64.60 L1175.02,64.03 L1176.30,63.26 L1177.57,62.44 L1178.91,61.77 L1180.29,61.17 L1181.60,60.44 L1182.92,59.72 L1184.32,59.16 L1185.77,58.71 L1187.14,58.09 L1188.37,57.19 L1189.58,56.26 L1190.88,55.51 L1192.25,54.89 L1193.61,54.26 L1194.93,53.53 L1196.23,52.74 L1197.62,52.14 L1199.10,51.81 L1200.59,51.54 L1202.05,51.18 L1203.52,50.85 L1204.95,50.39 L1206.33,49.69 L1207.75,49.12 L1209.26,48.98 L1210.81,49.08 L1212.33,49.00 L1213.79,48.64 L1215.24,48.24 L1216.72,47.93 L1218.21,47.75 L1219.72,47.69 L1221.23,47.64 L1222.73,47.52 L1224.20,47.24 L1225.66,46.80 L1227.14,46.54 L1228.65,46.52 L1230.14,46.37 L1231.60,45.97 L1233.08,45.67 L1234.59,45.61 L1236.10,45.60 L1237.61,45.59 L1239.13,45.69 L1240.63,45.63 L1242.10,45.31 L1243.58,45.06 L1245.08,44.93 L1246.57,44.77 L1248.06,44.65 L1249.55,44.46 L1251.04,44.24 L1252.55,44.23 L1254.04,44.12 L1255.52,43.66 L1257.00,43.29 L1258.51,43.41 L1260.03,43.64 L1261.53,43.58 L1263.02,43.34 L1264.50,43.06 L1266.00,42.88 L1267.50,42.88 L1269.01,42.97 L1270.51,43.00 L1272.01,42.85 L1273.50,42.66 L1275.00,42.57 L1276.50,42.50 L1278.00,42.37 L1279.50,42.28 L1281.00,42.37 L1282.52,42.64 L1284.03,42.78 L1285.52,42.58 L1287.01,42.22 L1288.50,42.00 L1290.00,42.03 L1291.51,42.15 L1293.01,42.15 L1294.51,42.09 L1296.01,42.03 L1297.51,41.99 L1299.01,42.02 L1300.51,41.97 L1301.98,41.73 L1303.41,41.40 L1304.79,41.13 L1306.05,41.02 L1307.14,41.13 L1308.02,41.28" fill="none" stroke="#ee3b3b" stroke-width="2.2" stroke-linejoin="round"/>
<path d="M806.97,428.94 L807.83,428.81 L808.92,428.69 L810.18,428.61 L811.55,428.43 L812.99,428.19 L814.46,428.02 L815.95,427.85 L817.44,427.60 L818.94,427.38 L820.45,427.37 L821.97,427.52 L823.47,427.65 L824.98,427.76 L826.48,427.90 L827.97,428.10 L829.46,428.33 L830.95,428.51 L832.45,428.64 L833.93,428.85 L835.41,429.13 L836.89,429.34 L838.38,429.49 L839.86,429.69 L841.35,429.78 L842.89,429.64 L844.43,429.60 L845.90,429.91 L847.32,430.48 L848.76,430.96 L850.24,431.19 L851.74,431.30 L853.24,431.38 L854.71,431.53 L856.18,431.65 L857.66,431.57 L859.12,431.42 L860.60,431.45 L862.12,431.56 L863.63,431.44 L865.08,431.05 L866.52,430.63 L867.98,430.29 L869.44,429.92 L870.82,429.33 L872.11,428.52 L873.36,427.68 L874.64,426.93 L875.99,426.32 L877.40,425.79 L878.76,425.17 L879.99,424.34 L881.23,423.55 L882.51,422.88 L883.74,422.18 L884.97,421.50 L886.20,420.81 L887.37,419.99 L888.45,419.01 L889.36,417.86 L890.19,416.62 L891.05,415.40 L892.04,414.27 L893.10,413.19 L894.05,412.02 L894.87,410.76 L895.71,409.51 L896.65,408.35 L897.69,407.24 L898.57,406.03 L899.19,404.62 L899.84,403.24 L900.64,401.97 L901.46,400.71 L902.25,399.44 L903.17,398.25 L904.27,397.18 L905.44,396.15 L906.55,395.08 L907.36,393.81 L907.81,392.31 L908.17,390.78 L908.71,389.35 L909.45,388.05 L910.31,386.82 L911.21,385.60 L911.95,384.30 L912.45,382.85 L912.97,381.42 L913.77,380.15 L914.72,378.96 L915.59,377.73 L916.37,376.44 L917.22,375.20 L918.06,373.95 L918.63,372.55 L919.13,371.09 L919.83,369.76 L920.70,368.53 L921.61,367.32 L922.59,366.16 L923.65,365.05 L924.57,363.85 L925.28,362.52 L925.91,361.15 L926.59,359.80 L927.31,358.49 L928.11,357.21 L929.04,356.02 L930.02,354.87 L930.87,353.63 L931.60,352.31 L932.32,350.99 L933.04,349.67 L933.70,348.31 L934.29,346.90 L934.94,345.52 L935.65,344.18 L936.45,342.91 L937.53,341.82 L938.78,340.86 L939.85,339.78 L940.70,338.54 L941.45,337.23 L942.31,335.99 L943.32,334.88 L944.43,333.83 L945.51,332.77 L946.50,331.65 L947.44,330.49 L948.30,329.27 L949.12,328.00 L950.07,326.85 L951.14,325.79 L952.17,324.70 L953.19,323.60 L954.28,322.57 L955.43,321.59 L956.58,320.60 L957.70,319.59 L958.77,318.53 L959.62,317.27 L960.28,315.83 L961.03,314.49 L962.06,313.40 L963.18,312.38 L964.17,311.26 L965.12,310.09 L966.22,309.06 L967.44,308.14 L968.60,307.16 L969.56,306.00 L970.34,304.69 L971.19,303.43 L972.18,302.31 L973.26,301.25 L974.32,300.18 L975.34,299.07 L976.27,297.89 L977.09,296.62 L977.96,295.40 L978.91,294.22 L979.75,292.97 L980.44,291.63 L981.22,290.35 L982.13,289.15 L982.96,287.89 L983.77,286.63 L984.69,285.42 L985.41,284.11 L985.88,282.63 L986.52,281.27 L987.46,280.08 L988.34,278.86 L989.02,277.52 L989.63,276.13 L990.30,274.77 L991.14,273.52 L992.19,272.42 L993.24,271.32 L994.14,270.12 L995.00,268.89 L995.88,267.68 L996.76,266.46 L997.60,265.22 L998.45,263.98 L999.35,262.77 L1000.21,261.54 L1001.06,260.29 L1001.94,259.07 L1002.90,257.92 L1004.02,256.90 L1005.18,255.90 L1006.13,254.74 L1006.96,253.48 L1007.93,252.33 L1008.91,251.19 L1009.71,249.91 L1010.51,248.62 L1011.44,247.45 L1012.47,246.34 L1013.36,245.13 L1013.97,243.71 L1014.60,242.30 L1015.55,241.14 L1016.59,240.05 L1017.47,238.83 L1018.37,237.64 L1019.39,236.52 L1020.36,235.37 L1021.25,234.17 L1022.19,232.99 L1023.21,231.88 L1024.18,230.72 L1025.16,229.58 L1026.27,228.53 L1027.16,227.32 L1027.75,225.89 L1028.47,224.57 L1029.42,223.39 L1030.33,222.20 L1031.09,220.90 L1031.80,219.56 L1032.70,218.36 L1033.84,217.32 L1034.92,216.25 L1035.70,214.96 L1036.31,213.56 L1037.08,212.26 L1038.10,211.14 L1039.10,210.00 L1039.96,208.78 L1040.83,207.55 L1041.68,206.32 L1042.46,205.03 L1043.33,203.80 L1044.33,202.67 L1045.23,201.47 L1045.94,200.13 L1046.56,198.73 L1047.25,197.38 L1048.00,196.07 L1048.79,194.80 L1049.79,193.67 L1050.95,192.64 L1052.00,191.54 L1052.96,190.38 L1053.99,189.26 L1054.93,188.08 L1055.59,186.72 L1056.24,185.34 L1057.07,184.09 L1057.96,182.88 L1058.78,181.62 L1059.58,180.34 L1060.34,179.05 L1061.11,177.75 L1061.93,176.50 L1062.83,175.29 L1063.83,174.15 L1064.79,172.99 L1065.59,171.71 L1066.33,170.40 L1067.00,169.05 L1067.57,167.63 L1068.20,166.24 L1069.01,164.98 L1069.91,163.77 L1070.78,162.55 L1071.54,161.25 L1072.33,159.98 L1073.22,158.76 L1074.03,157.50 L1074.89,156.26 L1075.89,155.12 L1076.79,153.92 L1077.53,152.61 L1078.22,151.26 L1078.91,149.92 L1079.72,148.66 L1080.56,147.41 L1081.34,146.12 L1082.19,144.89 L1083.17,143.74 L1084.09,142.54 L1084.78,141.20 L1085.45,139.84 L1086.29,138.59 L1087.31,137.47 L1088.33,136.35 L1089.13,135.08 L1089.90,133.78 L1090.90,132.64 L1092.05,131.63 L1093.10,130.54 L1094.00,129.34 L1094.90,128.14 L1095.80,126.94 L1096.64,125.70 L1097.40,124.39 L1098.17,123.09 L1099.03,121.86 L1099.91,120.64 L1100.81,119.44 L1101.77,118.27 L1102.72,117.11 L1103.69,115.97 L1104.74,114.89 L1105.77,113.79 L1106.68,112.60 L1107.50,111.33 L1108.37,110.10 L1109.37,108.98 L1110.36,107.85 L1111.31,106.68 L1112.36,105.60 L1113.46,104.56 L1114.50,103.49 L1115.51,102.37 L1116.48,101.23 L1117.36,100.01 L1118.23,98.76 L1119.19,97.61 L1120.24,96.53 L1121.32,95.48 L1122.43,94.47 L1123.55,93.47 L1124.63,92.43 L1125.63,91.30 L1126.63,90.18 L1127.76,89.19 L1128.91,88.23 L1129.99,87.18 L1131.07,86.13 L1132.24,85.20 L1133.37,84.21 L1134.39,83.10 L1135.40,81.98 L1136.50,80.95 L1137.67,80.01 L1138.81,79.03 L1139.88,77.97 L1140.98,76.94 L1142.10,75.94 L1143.14,74.84 L1144.17,73.73 L1145.36,72.81 L1146.67,72.04 L1147.98,71.26 L1149.23,70.43 L1150.44,69.53 L1151.52,68.48 L1152.54,67.35 L1153.71,66.41 L1155.09,65.74 L1156.40,64.96 L1157.46,63.89 L1158.43,62.70 L1159.42,61.52 L1160.52,60.47 L1161.78,59.63 L1163.09,58.87 L1164.38,58.09 L1165.68,57.33 L1166.99,56.58 L1168.32,55.87 L1169.70,55.26 L1171.11,54.74 L1172.45,54.06 L1173.75,53.23 L1175.16,52.68 L1176.68,52.50 L1178.20,52.38 L1179.67,52.06 L1181.11,51.60 L1182.55,51.17 L1184.05,50.97 L1185.57,50.97 L1187.11,51.01 L1188.60,50.82 L1190.02,50.23 L1191.39,49.40 L1192.80,48.84 L1194.32,48.79 L1195.86,48.82 L1197.34,48.54 L1198.78,48.09 L1200.24,47.74 L1201.72,47.48 L1203.21,47.27 L1204.69,47.02 L1206.16,46.70 L1207.66,46.52 L1209.19,46.56 L1210.70,46.53 L1212.15,46.10 L1213.57,45.48 L1215.05,45.18 L1216.58,45.28 L1218.11,45.39 L1219.59,45.18 L1221.05,44.74 L1222.52,44.43 L1224.02,44.26 L1225.49,43.97 L1226.97,43.63 L1228.46,43.46 L1229.98,43.49 L1231.49,43.60 L1233.00,43.57 L1234.49,43.38 L1235.98,43.18 L1237.47,43.06 L1238.98,43.04 L1240.48,42.96 L1241.96,42.61 L1243.44,42.19 L1244.94,42.06 L1246.45,42.24 L1247.97,42.49 L1249.47,42.53 L1250.96,42.25 L1252.45,41.83 L1253.94,41.62 L1255.44,41.54 L1256.94,41.43 L1258.45,41.48 L1259.96,41.76 L1261.47,41.99 L1262.97,41.91 L1264.46,41.50 L1265.95,41.24 L1267.46,41.32 L1268.96,41.36 L1270.46,41.29 L1271.96,41.25 L1273.47,41.29 L1274.98,41.48 L1276.48,41.63 L1277.98,41.55 L1279.48,41.34 L1280.97,41.07 L1282.47,40.77 L1283.97,40.63 L1285.47,40.75 L1286.98,41.01 L1288.49,41.16 L1289.99,41.09 L1291.49,40.92 L1292.98,40.78 L1294.48,40.67 L1295.98,40.66 L1297.49,40.78 L1298.99,40.98 L1300.49,41.12 L1301.98,41.14 L1303.43,41.19 L1304.81,41.34 L1306.08,41.32 L1307.16,40.99 L1308.03,40.72" fill="none" stroke="#1a6ee6" stroke-width="2.2" stroke-linejoin="round"/>
<path d="M806.99,425.50 L807.88,425.46 L808.97,425.55 L810.18,426.02 L811.49,426.64 L812.92,426.85 L814.42,426.84 L815.89,427.12 L817.37,427.40 L818.90,427.40 L820.42,427.43 L821.92,427.64 L823.38,428.03 L824.82,428.50 L826.26,428.93 L827.71,429.34 L829.16,429.74 L830.60,430.17 L832.01,430.72 L833.35,431.43 L834.71,432.09 L836.11,432.61 L837.50,433.15 L838.88,433.75 L840.25,434.34 L841.63,434.93 L843.01,435.49 L844.43,435.98 L845.94,436.29 L847.45,436.52 L848.84,437.02 L850.12,437.85 L851.44,438.67 L852.87,439.21 L854.34,439.56 L855.85,439.70 L857.40,439.54 L858.93,439.25 L860.44,439.11 L861.92,439.26 L863.40,439.55 L864.90,439.80 L866.41,439.95 L867.92,439.88 L869.37,439.44 L870.76,438.80 L872.14,438.25 L873.56,437.84 L875.02,437.51 L876.49,437.10 L877.85,436.45 L879.08,435.56 L880.37,434.80 L881.82,434.28 L883.21,433.64 L884.38,432.67 L885.38,431.47 L886.38,430.27 L887.50,429.26 L888.68,428.36 L889.79,427.36 L890.92,426.40 L892.17,425.58 L893.38,424.69 L894.47,423.68 L895.50,422.61 L896.43,421.44 L897.28,420.21 L898.18,419.02 L899.10,417.83 L899.88,416.54 L900.52,415.17 L901.15,413.81 L901.73,412.42 L902.23,411.01 L902.86,409.64 L903.60,408.32 L904.23,406.95 L904.81,405.56 L905.45,404.19 L905.96,402.78 L906.30,401.30 L906.72,399.85 L907.39,398.50 L908.11,397.17 L908.60,395.75 L908.89,394.24 L909.29,392.79 L909.97,391.44 L910.77,390.14 L911.35,388.76 L911.62,387.24 L911.77,385.69 L912.11,384.21 L912.82,382.87 L913.72,381.61 L914.53,380.31 L915.24,378.98 L916.06,377.69 L916.86,376.40 L917.32,374.96 L917.48,373.41 L917.72,371.88 L918.19,370.45 L918.83,369.08 L919.57,367.77 L920.20,366.40 L920.54,364.91 L920.83,363.40 L921.42,362.01 L922.32,360.76 L923.18,359.51 L923.76,358.11 L924.26,356.69 L924.94,355.35 L925.69,354.04 L926.24,352.64 L926.58,351.13 L926.91,349.61 L927.44,348.19 L928.27,346.93 L929.33,345.78 L930.29,344.58 L931.02,343.27 L931.64,341.90 L932.16,340.47 L932.76,339.09 L933.62,337.84 L934.54,336.63 L935.30,335.33 L936.06,334.03 L936.80,332.72 L937.47,331.37 L938.21,330.07 L939.10,328.85 L940.04,327.66 L940.88,326.42 L941.60,325.10 L942.27,323.75 L942.91,322.39 L943.49,320.98 L944.13,319.60 L944.96,318.35 L945.97,317.22 L946.99,316.10 L947.86,314.89 L948.66,313.61 L949.57,312.40 L950.57,311.28 L951.56,310.15 L952.57,309.04 L953.61,307.95 L954.62,306.84 L955.54,305.64 L956.41,304.39 L957.37,303.22 L958.48,302.20 L959.56,301.16 L960.49,299.97 L961.45,298.81 L962.49,297.72 L963.55,296.66 L964.69,295.68 L965.86,294.72 L966.97,293.71 L968.06,292.67 L969.22,291.69 L970.39,290.70 L971.31,289.50 L971.98,288.13 L972.70,286.80 L973.60,285.60 L974.56,284.43 L975.43,283.20 L976.12,281.86 L976.71,280.46 L977.33,279.08 L977.96,277.72 L978.68,276.39 L979.50,275.12 L980.25,273.82 L981.07,272.55 L982.14,271.46 L983.27,270.41 L984.23,269.26 L985.03,267.99 L985.79,266.68 L986.65,265.44 L987.69,264.35 L988.77,263.29 L989.66,262.08 L990.43,260.77 L991.31,259.55 L992.25,258.38 L993.10,257.13 L993.89,255.84 L994.77,254.61 L995.88,253.58 L997.10,252.64 L998.18,251.58 L999.17,250.45 L1000.14,249.30 L1001.03,248.08 L1001.79,246.77 L1002.58,245.47 L1003.43,244.23 L1004.30,243.01 L1005.26,241.85 L1006.25,240.72 L1007.27,239.60 L1008.34,238.53 L1009.22,237.31 L1009.83,235.89 L1010.54,234.55 L1011.59,233.46 L1012.79,232.47 L1013.77,231.33 L1014.43,229.95 L1015.08,228.56 L1016.01,227.38 L1017.12,226.33 L1018.10,225.18 L1018.85,223.87 L1019.59,222.55 L1020.59,221.42 L1021.63,220.31 L1022.45,219.05 L1023.13,217.69 L1023.74,216.29 L1024.42,214.93 L1025.35,213.74 L1026.40,212.64 L1027.39,211.50 L1028.35,210.34 L1029.29,209.16 L1030.19,207.96 L1031.09,206.75 L1031.98,205.54 L1032.86,204.32 L1033.69,203.07 L1034.38,201.72 L1035.17,200.44 L1036.18,199.31 L1037.15,198.15 L1037.87,196.82 L1038.48,195.42 L1039.22,194.11 L1040.21,192.96 L1041.36,191.92 L1042.37,190.80 L1043.14,189.51 L1043.81,188.14 L1044.48,186.77 L1045.30,185.51 L1046.28,184.37 L1047.17,183.16 L1047.91,181.83 L1048.58,180.46 L1049.21,179.06 L1049.96,177.74 L1050.96,176.61 L1052.18,175.64 L1053.37,174.65 L1054.37,173.53 L1055.39,172.42 L1056.47,171.35 L1057.40,170.17 L1058.16,168.86 L1058.89,167.52 L1059.67,166.23 L1060.53,164.99 L1061.49,163.84 L1062.48,162.70 L1063.42,161.53 L1064.33,160.33 L1065.26,159.15 L1066.23,158.00 L1067.21,156.86 L1068.13,155.67 L1069.05,154.47 L1069.96,153.28 L1070.76,152.00 L1071.48,150.67 L1072.24,149.38 L1073.13,148.17 L1074.18,147.03 L1075.04,145.78 L1075.38,144.25 L1075.49,142.64 L1075.80,141.14 L1076.43,139.78 L1077.27,138.51 L1078.16,137.26 L1079.00,136.00 L1079.68,134.66 L1080.15,133.22 L1080.65,131.77 L1081.33,130.42 L1082.07,129.10 L1082.83,127.78 L1083.78,126.60 L1084.89,125.54 L1085.93,124.43 L1086.77,123.19 L1087.59,121.92 L1088.54,120.75 L1089.56,119.64 L1090.55,118.51 L1091.58,117.41 L1092.68,116.36 L1093.71,115.26 L1094.66,114.09 L1095.55,112.88 L1096.34,111.59 L1097.02,110.23 L1097.76,108.90 L1098.65,107.70 L1099.65,106.57 L1100.60,105.41 L1101.44,104.15 L1102.33,102.95 L1103.26,101.76 L1104.03,100.47 L1104.75,99.13 L1105.47,97.81 L1106.24,96.51 L1107.11,95.28 L1108.02,94.08 L1108.89,92.84 L1109.81,91.65 L1110.84,90.53 L1111.84,89.41 L1112.85,88.29 L1113.98,87.28 L1115.20,86.35 L1116.34,85.36 L1117.30,84.20 L1118.07,82.87 L1118.73,81.43 L1119.62,80.20 L1120.80,79.24 L1122.08,78.38 L1123.33,77.52 L1124.45,76.51 L1125.44,75.38 L1126.44,74.25 L1127.55,73.23 L1128.69,72.26 L1129.81,71.25 L1130.96,70.29 L1132.15,69.37 L1133.27,68.36 L1134.41,67.39 L1135.76,66.66 L1137.15,66.02 L1138.32,65.10 L1139.25,63.84 L1140.17,62.55 L1141.32,61.57 L1142.71,60.95 L1144.11,60.35 L1145.39,59.56 L1146.62,58.70 L1147.88,57.88 L1149.10,56.99 L1150.32,56.10 L1151.58,55.26 L1152.86,54.47 L1154.23,53.84 L1155.62,53.25 L1156.94,52.52 L1158.27,51.82 L1159.69,51.29 L1161.12,50.77 L1162.44,50.06 L1163.62,49.09 L1164.79,48.07 L1166.10,47.33 L1167.50,46.77 L1168.89,46.18 L1170.31,45.66 L1171.74,45.17 L1173.19,44.71 L1174.63,44.24 L1175.94,43.50 L1177.13,42.52 L1178.40,41.66 L1179.80,41.11 L1181.26,40.71 L1182.68,40.22 L1184.05,39.62 L1185.36,38.83 L1186.65,37.99 L1188.06,37.46 L1189.57,37.24 L1191.05,36.94 L1192.46,36.40 L1193.90,35.97 L1195.39,35.75 L1196.86,35.41 L1198.30,34.90 L1199.78,34.56 L1201.30,34.57 L1202.82,34.63 L1204.31,34.41 L1205.81,34.24 L1207.33,34.36 L1208.83,34.45 L1210.33,34.36 L1211.84,34.35 L1213.34,34.54 L1214.85,34.73 L1216.35,34.69 L1217.85,34.46 L1219.35,34.24 L1220.85,34.15 L1222.35,34.16 L1223.86,34.27 L1225.37,34.44 L1226.87,34.60 L1228.37,34.72 L1229.87,34.68 L1231.37,34.48 L1232.88,34.31 L1234.38,34.17 L1235.88,34.08 L1237.38,34.11 L1238.89,34.30 L1240.39,34.53 L1241.89,34.55 L1243.39,34.28 L1244.90,34.12 L1246.40,34.29 L1247.90,34.48 L1249.40,34.47 L1250.91,34.48 L1252.41,34.59 L1253.91,34.61 L1255.42,34.39 L1256.93,34.00 L1258.44,33.88 L1259.93,34.32 L1261.42,34.98 L1262.91,35.18 L1264.43,34.83 L1265.94,34.56 L1267.44,34.73 L1268.93,34.99 L1270.43,35.03 L1271.94,34.98 L1273.44,34.93 L1274.95,34.99 L1276.44,35.27 L1277.94,35.48 L1279.45,35.39 L1280.96,35.19 L1282.46,35.10 L1283.96,35.15 L1285.47,35.11 L1286.97,35.04 L1288.47,35.20 L1289.97,35.55 L1291.46,35.74 L1292.97,35.70 L1294.48,35.59 L1295.98,35.57 L1297.48,35.80 L1298.97,36.21 L1300.45,36.49 L1301.94,36.47 L1303.39,36.35 L1304.78,36.33 L1306.05,36.22 L1307.15,36.11 L1308.02,36.18" fill="none" stroke="#38a868" stroke-width="2.2" stroke-linejoin="round"/>
<path d="M807.02,417.04 L807.90,417.06 L808.98,417.27 L810.23,417.53 L811.59,417.80 L812.99,418.17 L814.40,418.63 L815.79,419.15 L817.18,419.71 L818.59,420.21 L820.03,420.67 L821.40,421.27 L822.78,421.83 L824.24,422.22 L825.64,422.72 L826.94,423.49 L828.22,424.31 L829.57,424.98 L830.94,425.61 L832.28,426.29 L833.65,426.92 L835.06,427.44 L836.46,427.99 L837.81,428.64 L839.19,429.24 L840.62,429.71 L841.98,430.35 L843.21,431.23 L844.45,432.07 L845.74,432.82 L847.02,433.58 L848.26,434.42 L849.41,435.37 L850.50,436.40 L851.66,437.33 L852.94,438.07 L854.26,438.65 L855.57,439.11 L856.85,439.55 L858.15,440.06 L859.53,440.55 L860.98,440.77 L862.45,440.69 L863.93,440.47 L865.42,440.33 L866.91,440.27 L868.40,440.19 L869.89,440.13 L871.37,440.12 L872.86,440.12 L874.34,439.98 L875.75,439.50 L877.03,438.73 L878.21,437.85 L879.36,436.97 L880.58,436.18 L881.85,435.44 L883.01,434.50 L884.06,433.44 L885.23,432.50 L886.46,431.62 L887.53,430.57 L888.37,429.29 L889.17,427.99 L890.13,426.86 L891.26,425.88 L892.42,424.91 L893.47,423.84 L894.42,422.68 L895.36,421.52 L896.28,420.33 L897.12,419.08 L897.91,417.80 L898.59,416.45 L899.19,415.08 L899.73,413.67 L900.26,412.26 L901.04,410.97 L901.99,409.75 L902.69,408.41 L903.17,406.98 L903.65,405.56 L904.08,404.11 L904.51,402.66 L905.04,401.26 L905.54,399.84 L905.99,398.41 L906.57,397.02 L907.25,395.68 L907.91,394.32 L908.42,392.91 L908.82,391.46 L909.27,390.02 L909.78,388.61 L910.37,387.22 L910.99,385.85 L911.54,384.45 L911.97,383.01 L912.35,381.55 L912.71,380.09 L913.10,378.64 L913.64,377.24 L914.22,375.85 L914.56,374.38 L914.71,372.85 L915.01,371.36 L915.54,369.95 L916.31,368.63 L917.24,367.38 L918.08,366.10 L918.77,364.77 L919.28,363.36 L919.57,361.86 L919.76,360.31 L920.16,358.84 L920.88,357.51 L921.73,356.25 L922.45,354.93 L922.91,353.49 L923.41,352.06 L924.25,350.80 L925.21,349.60 L925.99,348.31 L926.52,346.90 L927.00,345.46 L927.76,344.16 L928.67,342.94 L929.43,341.64 L930.07,340.28 L930.72,338.93 L931.44,337.61 L932.22,336.33 L932.89,334.98 L933.33,333.52 L933.74,332.04 L934.35,330.67 L935.09,329.36 L935.70,327.98 L936.28,326.59 L936.98,325.26 L937.84,324.01 L938.86,322.86 L939.75,321.65 L940.34,320.26 L940.84,318.81 L941.58,317.49 L942.50,316.30 L943.28,315.01 L943.96,313.66 L944.85,312.44 L945.85,311.31 L946.72,310.08 L947.59,308.85 L948.64,307.77 L949.85,306.83 L951.07,305.92 L952.25,304.98 L953.42,304.03 L954.53,303.03 L955.54,301.94 L956.37,300.65 L957.09,299.25 L958.01,298.04 L959.09,297.00 L960.06,295.85 L961.01,294.68 L962.07,293.63 L963.11,292.56 L964.06,291.40 L965.09,290.31 L966.20,289.29 L967.17,288.14 L967.99,286.89 L968.79,285.62 L969.56,284.33 L970.31,283.03 L971.08,281.74 L971.88,280.48 L972.69,279.21 L973.45,277.92 L974.28,276.66 L975.32,275.55 L976.45,274.50 L977.31,273.27 L977.95,271.89 L978.73,270.61 L979.79,269.53 L980.83,268.43 L981.53,267.09 L982.13,265.66 L982.97,264.41 L983.98,263.30 L985.10,262.26 L986.23,261.24 L987.21,260.10 L988.03,258.84 L988.85,257.57 L989.70,256.33 L990.59,255.12 L991.63,254.03 L992.73,252.99 L993.69,251.83 L994.56,250.60 L995.56,249.48 L996.66,248.43 L997.68,247.33 L998.60,246.13 L999.41,244.86 L1000.17,243.55 L1000.93,242.24 L1001.69,240.93 L1002.54,239.69 L1003.52,238.55 L1004.53,237.43 L1005.52,236.29 L1006.42,235.09 L1007.24,233.82 L1008.09,232.59 L1009.10,231.47 L1010.07,230.31 L1010.85,229.02 L1011.64,227.74 L1012.60,226.58 L1013.55,225.42 L1014.36,224.15 L1015.09,222.83 L1015.82,221.51 L1016.62,220.23 L1017.50,219.02 L1018.40,217.81 L1019.13,216.49 L1019.80,215.13 L1020.57,213.83 L1021.41,212.58 L1022.32,211.39 L1023.30,210.24 L1024.24,209.07 L1025.17,207.89 L1026.12,206.72 L1026.98,205.50 L1027.77,204.21 L1028.56,202.93 L1029.44,201.72 L1030.41,200.56 L1031.45,199.46 L1032.53,198.39 L1033.56,197.28 L1034.39,196.03 L1035.11,194.70 L1036.02,193.50 L1037.04,192.39 L1037.83,191.11 L1038.38,189.65 L1038.92,188.18 L1039.59,186.80 L1040.48,185.59 L1041.55,184.51 L1042.61,183.44 L1043.62,182.32 L1044.68,181.24 L1045.84,180.23 L1046.93,179.18 L1047.82,177.97 L1048.55,176.64 L1049.34,175.34 L1050.26,174.16 L1051.24,173.02 L1052.24,171.89 L1053.24,170.78 L1054.18,169.61 L1055.08,168.40 L1056.05,167.25 L1057.01,166.10 L1057.92,164.91 L1058.96,163.82 L1060.16,162.87 L1061.21,161.78 L1062.01,160.50 L1062.79,159.19 L1063.62,157.93 L1064.60,156.80 L1065.70,155.75 L1066.65,154.59 L1067.43,153.30 L1068.28,152.06 L1069.20,150.88 L1070.05,149.65 L1070.75,148.32 L1071.48,147.02 L1072.32,145.78 L1073.11,144.50 L1073.81,143.18 L1074.58,141.89 L1075.42,140.62 L1076.11,139.28 L1076.61,137.86 L1077.00,136.39 L1077.44,134.94 L1077.99,133.53 L1078.65,132.17 L1079.40,130.86 L1080.34,129.67 L1081.35,128.54 L1082.26,127.34 L1083.12,126.11 L1084.12,124.99 L1085.30,124.01 L1086.52,123.08 L1087.53,121.97 L1088.31,120.67 L1089.11,119.38 L1089.93,118.11 L1090.69,116.79 L1091.54,115.53 L1092.59,114.46 L1093.70,113.43 L1094.69,112.30 L1095.58,111.10 L1096.39,109.83 L1097.08,108.46 L1097.88,107.19 L1098.96,106.14 L1100.06,105.08 L1100.98,103.90 L1101.89,102.70 L1102.91,101.59 L1103.87,100.43 L1104.75,99.22 L1105.66,98.03 L1106.56,96.82 L1107.47,95.63 L1108.45,94.50 L1109.39,93.33 L1110.14,92.00 L1110.92,90.70 L1111.91,89.56 L1113.02,88.54 L1114.28,87.65 L1115.49,86.72 L1116.38,85.50 L1117.13,84.16 L1118.08,82.99 L1119.16,81.94 L1120.21,80.86 L1121.31,79.84 L1122.57,78.98 L1123.87,78.17 L1124.98,77.16 L1125.89,75.95 L1126.81,74.73 L1127.82,73.62 L1128.96,72.64 L1130.23,71.81 L1131.45,70.92 L1132.48,69.83 L1133.39,68.58 L1134.40,67.44 L1135.73,66.69 L1137.15,66.07 L1138.38,65.21 L1139.41,64.09 L1140.42,62.92 L1141.56,61.91 L1142.84,61.11 L1144.19,60.42 L1145.55,59.75 L1146.87,59.04 L1148.18,58.30 L1149.50,57.59 L1150.85,56.92 L1152.20,56.25 L1153.49,55.49 L1154.76,54.69 L1156.10,54.01 L1157.43,53.31 L1158.64,52.40 L1159.86,51.50 L1161.16,50.74 L1162.49,50.05 L1163.76,49.23 L1165.01,48.38 L1166.39,47.77 L1167.83,47.29 L1169.17,46.62 L1170.47,45.87 L1171.85,45.26 L1173.24,44.68 L1174.60,44.04 L1175.97,43.43 L1177.41,42.96 L1178.87,42.54 L1180.30,42.07 L1181.70,41.55 L1183.00,40.80 L1184.22,39.83 L1185.52,39.06 L1186.96,38.61 L1188.43,38.27 L1189.84,37.79 L1191.20,37.10 L1192.58,36.48 L1194.03,36.05 L1195.50,35.73 L1196.98,35.43 L1198.46,35.15 L1199.96,35.01 L1201.46,34.87 L1202.95,34.57 L1204.44,34.29 L1205.95,34.34 L1207.47,34.67 L1208.98,34.98 L1210.48,35.09 L1211.98,35.02 L1213.48,34.96 L1214.98,34.99 L1216.48,34.95 L1217.98,34.81 L1219.48,34.56 L1220.98,34.34 L1222.47,34.22 L1223.97,34.12 L1225.47,34.06 L1226.98,34.09 L1228.48,34.17 L1229.99,34.34 L1231.49,34.48 L1232.99,34.37 L1234.49,34.10 L1235.99,33.91 L1237.49,33.88 L1239.00,33.97 L1240.50,34.05 L1242.00,34.05 L1243.50,34.11 L1245.00,34.11 L1246.51,34.06 L1248.01,34.19 L1249.50,34.40 L1251.00,34.52 L1252.50,34.53 L1254.01,34.44 L1255.51,34.37 L1257.01,34.51 L1258.51,34.70 L1260.00,34.85 L1261.50,35.03 L1263.00,35.08 L1264.51,34.93 L1266.01,34.87 L1267.51,34.93 L1269.01,35.01 L1270.51,35.07 L1272.02,35.05 L1273.51,35.20 L1275.00,35.59 L1276.49,35.75 L1278.00,35.62 L1279.51,35.44 L1281.02,35.34 L1282.53,35.30 L1284.02,35.40 L1285.51,35.67 L1287.00,35.97 L1288.50,36.13 L1290.00,36.27 L1291.49,36.49 L1292.99,36.53 L1294.50,36.38 L1296.01,36.25 L1297.51,36.17 L1299.01,36.23 L1300.50,36.41 L1301.98,36.47 L1303.44,36.38 L1304.82,36.39 L1306.08,36.58 L1307.17,36.61 L1308.05,36.42" fill="none" stroke="#a86ddb" stroke-width="2.2" stroke-linejoin="round"/>
</g>
<line x1="804.50" y1="33.00" x2="1310.50" y2="33.00" stroke="#000" stroke-width="2" />
<line x1="805.50" y1="33.00" x2="805.50" y2="442.70" stroke="#000" stroke-width="2" />
<line x1="804.50" y1="441.70" x2="1310.50" y2="441.70" stroke="#000" stroke-width="2" />
<line x1="1309.50" y1="32.00" x2="1309.50" y2="442.70" stroke="#000" stroke-width="2" />
<line x1="805.50" y1="441.70" x2="805.50" y2="448.70" stroke="#000" stroke-width="2" />
<line x1="868.50" y1="441.70" x2="868.50" y2="445.20" stroke="#000" stroke-width="2" />
<line x1="931.50" y1="441.70" x2="931.50" y2="448.70" stroke="#000" stroke-width="2" />
<line x1="994.50" y1="441.70" x2="994.50" y2="445.20" stroke="#000" stroke-width="2" />
<line x1="1057.50" y1="441.70" x2="1057.50" y2="448.70" stroke="#000" stroke-width="2" />
<line x1="1120.50" y1="441.70" x2="1120.50" y2="445.20" stroke="#000" stroke-width="2" />
<line x1="1183.50" y1="441.70" x2="1183.50" y2="448.70" stroke="#000" stroke-width="2" />
<line x1="1246.50" y1="441.70" x2="1246.50" y2="445.20" stroke="#000" stroke-width="2" />
<line x1="1309.50" y1="441.70" x2="1309.50" y2="448.70" stroke="#000" stroke-width="2" />
<text x="805.50" y="488.20" font-size="44" text-anchor="middle" fill="#000" >0.8</text>
<text x="931.50" y="488.20" font-size="44" text-anchor="middle" fill="#000" >0.9</text>
<text x="1057.50" y="488.20" font-size="44" text-anchor="middle" fill="#000" >1.0</text>
<text x="1183.50" y="488.20" font-size="44" text-anchor="middle" fill="#000" >1.1</text>
<text x="1309.50" y="488.20" font-size="44" text-anchor="middle" fill="#000" >1.2</text>
<text x="1058.30" y="552.00" font-size="44" text-anchor="middle" fill="#000" >Energy (eV)</text>
<text transform="translate(775.5,388.5) rotate(-90)" font-size="44" fill="#000"><tspan font-family="Liberation Serif" font-style="italic" font-size="46">α</tspan>/S (arb. units)</text>
<text x="742.00" y="41.00" font-size="57" text-anchor="start" fill="#000" font-weight="bold">b</text>
<text x="829.8" y="165.5" font-size="38" fill="#ff0000">Reduced <tspan font-style="italic">E</tspan><tspan font-size="25" dy="6">g</tspan></text>
<polygon points="979.00,189.30 1014.40,194.45 998.24,198.42 1066.20,245.73 1062.20,251.47 994.24,204.17 996.12,220.71" fill="#ff0000"/>
<text x="1105.20" y="214.10" font-size="26.5" text-anchor="start" fill="#000" >SnSe-xTe</text>
<line x1="1105.00" y1="255.00" x2="1162.00" y2="255.00" stroke="#000000" stroke-width="2.2" />
<text x="1169.50" y="263.40" font-size="25.2" text-anchor="start" fill="#000" >x=0</text>
<line x1="1105.00" y1="285.78" x2="1162.00" y2="285.78" stroke="#ee3b3b" stroke-width="2.2" />
<text x="1169.50" y="294.18" font-size="25.2" text-anchor="start" fill="#000" >x=0.5%</text>
<line x1="1105.00" y1="316.56" x2="1162.00" y2="316.56" stroke="#1a6ee6" stroke-width="2.2" />
<text x="1169.50" y="324.96" font-size="25.2" text-anchor="start" fill="#000" >x=0.75%</text>
<line x1="1105.00" y1="347.34" x2="1162.00" y2="347.34" stroke="#38a868" stroke-width="2.2" />
<text x="1169.50" y="355.74" font-size="25.2" text-anchor="start" fill="#000" >x=1%</text>
<line x1="1105.00" y1="378.12" x2="1162.00" y2="378.12" stroke="#a86ddb" stroke-width="2.2" />
<text x="1169.50" y="386.52" font-size="25.2" text-anchor="start" fill="#000" >x=1.25%</text>
<g clip-path="url(#clipd)">
<circle cx="817.5" cy="1013.8" r="3.5" fill="none" stroke="#3e3e3e" stroke-width="1.6"/>
<circle cx="813.7" cy="1024.8" r="3.5" fill="none" stroke="#3e3e3e" stroke-width="1.6"/>
<circle cx="821.5" cy="1026.9" r="3.5" fill="none" stroke="#3e3e3e" stroke-width="1.6"/>
<circle cx="825.6" cy="1021.0" r="3.5" fill="none" stroke="#3e3e3e" stroke-width="1.6"/>
<circle cx="845.3" cy="1018.0" r="3.5" fill="none" stroke="#3e3e3e" stroke-width="1.6"/>
<circle cx="853.6" cy="1021.0" r="3.5" fill="none" stroke="#3e3e3e" stroke-width="1.6"/>
<circle cx="861.6" cy="1006.3" r="3.5" fill="none" stroke="#3e3e3e" stroke-width="1.6"/>
<circle cx="873.3" cy="1012.0" r="3.5" fill="none" stroke="#3e3e3e" stroke-width="1.6"/>
<circle cx="881.0" cy="1009.6" r="3.5" fill="none" stroke="#3e3e3e" stroke-width="1.6"/>
<circle cx="808.4" cy="1041.2" r="3.5" fill="none" stroke="#3e3e3e" stroke-width="1.6"/>
<circle cx="837.5" cy="1044.8" r="3.5" fill="none" stroke="#3e3e3e" stroke-width="1.6"/>
<circle cx="920.3" cy="1006.7" r="3.5" fill="none" stroke="#3e3e3e" stroke-width="1.6"/>
<circle cx="941.7" cy="992.4" r="3.5" fill="none" stroke="#3e3e3e" stroke-width="1.6"/>
<circle cx="952.4" cy="992.4" r="3.5" fill="none" stroke="#3e3e3e" stroke-width="1.6"/>
<circle cx="948.9" cy="1004.3" r="3.5" fill="none" stroke="#3e3e3e" stroke-width="1.6"/>
<circle cx="960.8" cy="1004.9" r="3.5" fill="none" stroke="#3e3e3e" stroke-width="1.6"/>
<circle cx="965.0" cy="997.0" r="3.5" fill="none" stroke="#3e3e3e" stroke-width="1.6"/>
<circle cx="965.5" cy="962.6" r="3.5" fill="none" stroke="#3e3e3e" stroke-width="1.6"/>
<circle cx="829.2" cy="1038.8" r="3.5" fill="none" stroke="#3e3e3e" stroke-width="1.6"/>
<circle cx="841.7" cy="1035.2" r="3.5" fill="none" stroke="#3e3e3e" stroke-width="1.6"/>
<circle cx="849.5" cy="1035.2" r="3.5" fill="none" stroke="#3e3e3e" stroke-width="1.6"/>
<circle cx="865.5" cy="1028.1" r="3.5" fill="none" stroke="#3e3e3e" stroke-width="1.6"/>
<circle cx="869.7" cy="1034.0" r="3.5" fill="none" stroke="#3e3e3e" stroke-width="1.6"/>
<circle cx="877.4" cy="1016.2" r="3.5" fill="none" stroke="#3e3e3e" stroke-width="1.6"/>
<circle cx="885.2" cy="1023.9" r="3.5" fill="none" stroke="#3e3e3e" stroke-width="1.6"/>
<circle cx="893.5" cy="1026.9" r="3.5" fill="none" stroke="#3e3e3e" stroke-width="1.6"/>
<circle cx="897.7" cy="1023.3" r="3.5" fill="none" stroke="#3e3e3e" stroke-width="1.6"/>
<circle cx="901.2" cy="1031.7" r="3.5" fill="none" stroke="#3e3e3e" stroke-width="1.6"/>
<circle cx="905.4" cy="1029.3" r="3.5" fill="none" stroke="#3e3e3e" stroke-width="1.6"/>
<circle cx="909.6" cy="1021.0" r="3.5" fill="none" stroke="#3e3e3e" stroke-width="1.6"/>
<circle cx="913.1" cy="1020.4" r="3.5" fill="none" stroke="#3e3e3e" stroke-width="1.6"/>
<circle cx="925.0" cy="1023.9" r="3.5" fill="none" stroke="#3e3e3e" stroke-width="1.6"/>
<circle cx="929.2" cy="1022.1" r="3.5" fill="none" stroke="#3e3e3e" stroke-width="1.6"/>
<circle cx="936.9" cy="1025.1" r="3.5" fill="none" stroke="#3e3e3e" stroke-width="1.6"/>
<circle cx="932.2" cy="1030.5" r="3.5" fill="none" stroke="#3e3e3e" stroke-width="1.6"/>
<circle cx="1020.4" cy="879.7" r="3.5" fill="none" stroke="#3e3e3e" stroke-width="1.6"/>
<circle cx="1016.4" cy="893.5" r="3.5" fill="none" stroke="#3e3e3e" stroke-width="1.6"/>
<circle cx="1011.9" cy="911.9" r="3.5" fill="none" stroke="#3e3e3e" stroke-width="1.6"/>
<circle cx="992.5" cy="925.7" r="3.5" fill="none" stroke="#3e3e3e" stroke-width="1.6"/>
<circle cx="988.5" cy="939.7" r="3.5" fill="none" stroke="#3e3e3e" stroke-width="1.6"/>
<circle cx="1003.5" cy="941.4" r="3.5" fill="none" stroke="#3e3e3e" stroke-width="1.6"/>
<circle cx="999.5" cy="945.4" r="3.5" fill="none" stroke="#3e3e3e" stroke-width="1.6"/>
<circle cx="995.8" cy="948.6" r="3.5" fill="none" stroke="#3e3e3e" stroke-width="1.6"/>
<circle cx="1009.1" cy="944.6" r="3.5" fill="none" stroke="#3e3e3e" stroke-width="1.6"/>
<circle cx="968.9" cy="963.1" r="3.5" fill="none" stroke="#3e3e3e" stroke-width="1.6"/>
<circle cx="972.6" cy="969.6" r="3.5" fill="none" stroke="#3e3e3e" stroke-width="1.6"/>
<circle cx="984.5" cy="968.9" r="3.5" fill="none" stroke="#3e3e3e" stroke-width="1.6"/>
<circle cx="980.9" cy="987.3" r="3.5" fill="none" stroke="#3e3e3e" stroke-width="1.6"/>
<circle cx="976.6" cy="991.8" r="3.5" fill="none" stroke="#3e3e3e" stroke-width="1.6"/>
<circle cx="1071.8" cy="714.5" r="3.5" fill="none" stroke="#3e3e3e" stroke-width="1.6"/>
<circle cx="1075.9" cy="713.4" r="3.5" fill="none" stroke="#3e3e3e" stroke-width="1.6"/>
<circle cx="1060.3" cy="728.7" r="3.5" fill="none" stroke="#3e3e3e" stroke-width="1.6"/>
<circle cx="1065.6" cy="728.2" r="3.5" fill="none" stroke="#3e3e3e" stroke-width="1.6"/>
<circle cx="1051.9" cy="744.0" r="3.5" fill="none" stroke="#3e3e3e" stroke-width="1.6"/>
<circle cx="1055.7" cy="744.6" r="3.5" fill="none" stroke="#3e3e3e" stroke-width="1.6"/>
<circle cx="1062.6" cy="737.4" r="3.5" fill="none" stroke="#3e3e3e" stroke-width="1.6"/>
<circle cx="1079.4" cy="733.6" r="3.5" fill="none" stroke="#3e3e3e" stroke-width="1.6"/>
<circle cx="1083.2" cy="738.2" r="3.5" fill="none" stroke="#3e3e3e" stroke-width="1.6"/>
<circle cx="1087.0" cy="746.6" r="3.5" fill="none" stroke="#3e3e3e" stroke-width="1.6"/>
<circle cx="1097.7" cy="759.5" r="3.5" fill="none" stroke="#3e3e3e" stroke-width="1.6"/>
<circle cx="1045.8" cy="786.3" r="3.5" fill="none" stroke="#3e3e3e" stroke-width="1.6"/>
<circle cx="1040.0" cy="798.5" r="3.5" fill="none" stroke="#3e3e3e" stroke-width="1.6"/>
<circle cx="1042.0" cy="802.3" r="3.5" fill="none" stroke="#3e3e3e" stroke-width="1.6"/>
<circle cx="1035.9" cy="819.1" r="3.5" fill="none" stroke="#3e3e3e" stroke-width="1.6"/>
<circle cx="1031.3" cy="838.2" r="3.5" fill="none" stroke="#3e3e3e" stroke-width="1.6"/>
<circle cx="1023.7" cy="850.4" r="3.5" fill="none" stroke="#3e3e3e" stroke-width="1.6"/>
<circle cx="1028.2" cy="848.1" r="3.5" fill="none" stroke="#3e3e3e" stroke-width="1.6"/>
<circle cx="1091.6" cy="780.9" r="3.5" fill="none" stroke="#3e3e3e" stroke-width="1.6"/>
<circle cx="1100.0" cy="805.0" r="3.5" fill="none" stroke="#3e3e3e" stroke-width="1.6"/>
<circle cx="1103.8" cy="820.6" r="3.5" fill="none" stroke="#3e3e3e" stroke-width="1.6"/>
<circle cx="1106.9" cy="826.7" r="3.5" fill="none" stroke="#3e3e3e" stroke-width="1.6"/>
<circle cx="1111.5" cy="847.3" r="3.5" fill="none" stroke="#3e3e3e" stroke-width="1.6"/>
<circle cx="1114.5" cy="864.9" r="3.5" fill="none" stroke="#3e3e3e" stroke-width="1.6"/>
<circle cx="1118.3" cy="877.1" r="3.5" fill="none" stroke="#3e3e3e" stroke-width="1.6"/>
<circle cx="1122.1" cy="890.7" r="3.5" fill="none" stroke="#3e3e3e" stroke-width="1.6"/>
<circle cx="1126.3" cy="900.1" r="3.5" fill="none" stroke="#3e3e3e" stroke-width="1.6"/>
<circle cx="1132.3" cy="903.5" r="3.5" fill="none" stroke="#3e3e3e" stroke-width="1.6"/>
<circle cx="1136.5" cy="917.9" r="3.5" fill="none" stroke="#3e3e3e" stroke-width="1.6"/>
<circle cx="1140.7" cy="928.9" r="3.5" fill="none" stroke="#3e3e3e" stroke-width="1.6"/>
<circle cx="1147.5" cy="947.6" r="3.5" fill="none" stroke="#3e3e3e" stroke-width="1.6"/>
<circle cx="1155.2" cy="950.2" r="3.5" fill="none" stroke="#3e3e3e" stroke-width="1.6"/>
<circle cx="1152.6" cy="966.3" r="3.5" fill="none" stroke="#3e3e3e" stroke-width="1.6"/>
<circle cx="1159.4" cy="964.6" r="3.5" fill="none" stroke="#3e3e3e" stroke-width="1.6"/>
<circle cx="1167.6" cy="961.2" r="3.5" fill="none" stroke="#3e3e3e" stroke-width="1.6"/>
<circle cx="1171.3" cy="980.7" r="3.5" fill="none" stroke="#3e3e3e" stroke-width="1.6"/>
<circle cx="1175.6" cy="979.9" r="3.5" fill="none" stroke="#3e3e3e" stroke-width="1.6"/>
<circle cx="1164.5" cy="989.2" r="3.5" fill="none" stroke="#3e3e3e" stroke-width="1.6"/>
<circle cx="1178.9" cy="992.6" r="3.5" fill="none" stroke="#3e3e3e" stroke-width="1.6"/>
<circle cx="1183.2" cy="995.2" r="3.5" fill="none" stroke="#3e3e3e" stroke-width="1.6"/>
<circle cx="1187.4" cy="986.7" r="3.5" fill="none" stroke="#3e3e3e" stroke-width="1.6"/>
<circle cx="1198.5" cy="1000.3" r="3.5" fill="none" stroke="#3e3e3e" stroke-width="1.6"/>
<circle cx="1202.7" cy="999.4" r="3.5" fill="none" stroke="#3e3e3e" stroke-width="1.6"/>
<circle cx="1207.0" cy="1006.2" r="3.5" fill="none" stroke="#3e3e3e" stroke-width="1.6"/>
<circle cx="1208.7" cy="1000.3" r="3.5" fill="none" stroke="#3e3e3e" stroke-width="1.6"/>
<circle cx="1191.7" cy="1010.4" r="3.5" fill="none" stroke="#3e3e3e" stroke-width="1.6"/>
<circle cx="1195.1" cy="1024.9" r="3.5" fill="none" stroke="#3e3e3e" stroke-width="1.6"/>
<circle cx="1231.0" cy="972.2" r="3.5" fill="none" stroke="#3e3e3e" stroke-width="1.6"/>
<circle cx="1235.0" cy="996.0" r="3.5" fill="none" stroke="#3e3e3e" stroke-width="1.6"/>
<circle cx="1246.8" cy="999.6" r="3.5" fill="none" stroke="#3e3e3e" stroke-width="1.6"/>
<circle cx="1211.2" cy="1001.0" r="3.5" fill="none" stroke="#3e3e3e" stroke-width="1.6"/>
<circle cx="1214.8" cy="994.7" r="3.5" fill="none" stroke="#3e3e3e" stroke-width="1.6"/>
<circle cx="1270.6" cy="1009.1" r="3.5" fill="none" stroke="#3e3e3e" stroke-width="1.6"/>
<circle cx="1278.7" cy="1010.9" r="3.5" fill="none" stroke="#3e3e3e" stroke-width="1.6"/>
<circle cx="1282.8" cy="1014.5" r="3.5" fill="none" stroke="#3e3e3e" stroke-width="1.6"/>
<circle cx="1274.7" cy="1016.3" r="3.5" fill="none" stroke="#3e3e3e" stroke-width="1.6"/>
<circle cx="1286.8" cy="1016.8" r="3.5" fill="none" stroke="#3e3e3e" stroke-width="1.6"/>
<circle cx="1291.4" cy="1018.6" r="3.5" fill="none" stroke="#3e3e3e" stroke-width="1.6"/>
<circle cx="1294.5" cy="1004.6" r="3.5" fill="none" stroke="#3e3e3e" stroke-width="1.6"/>
<circle cx="1299.0" cy="1000.1" r="3.5" fill="none" stroke="#3e3e3e" stroke-width="1.6"/>
<circle cx="1302.6" cy="1005.0" r="3.5" fill="none" stroke="#3e3e3e" stroke-width="1.6"/>
<circle cx="1307.1" cy="1016.8" r="3.5" fill="none" stroke="#3e3e3e" stroke-width="1.6"/>
<circle cx="1243.2" cy="1015.9" r="3.5" fill="none" stroke="#3e3e3e" stroke-width="1.6"/>
<circle cx="1262.5" cy="1018.1" r="3.5" fill="none" stroke="#3e3e3e" stroke-width="1.6"/>
<circle cx="1222.4" cy="1022.2" r="3.5" fill="none" stroke="#3e3e3e" stroke-width="1.6"/>
<circle cx="1258.5" cy="1030.3" r="3.5" fill="none" stroke="#3e3e3e" stroke-width="1.6"/>
<circle cx="1309.8" cy="1029.4" r="3.5" fill="none" stroke="#3e3e3e" stroke-width="1.6"/>
<path d="M806,1043.60 L1311,1027.34" stroke="#000" stroke-width="4.2"/>
<path d="M806.00,1038.86 L807.00,1038.81 L808.00,1038.77 L809.00,1038.72 L810.00,1038.67 L811.00,1038.62 L812.00,1038.57 L813.00,1038.52 L814.00,1038.48 L815.00,1038.43 L816.00,1038.38 L817.00,1038.33 L818.00,1038.28 L819.00,1038.23 L820.00,1038.18 L821.00,1038.13 L822.00,1038.08 L823.00,1038.03 L824.00,1037.98 L825.00,1037.93 L826.00,1037.87 L827.00,1037.82 L828.00,1037.77 L829.00,1037.72 L830.00,1037.67 L831.00,1037.62 L832.00,1037.56 L833.00,1037.51 L834.00,1037.46 L835.00,1037.40 L836.00,1037.35 L837.00,1037.30 L838.00,1037.24 L839.00,1037.19 L840.00,1037.13 L841.00,1037.08 L842.00,1037.02 L843.00,1036.97 L844.00,1036.91 L845.00,1036.86 L846.00,1036.80 L847.00,1036.74 L848.00,1036.69 L849.00,1036.63 L850.00,1036.57 L851.00,1036.51 L852.00,1036.45 L853.00,1036.40 L854.00,1036.34 L855.00,1036.28 L856.00,1036.22 L857.00,1036.16 L858.00,1036.10 L859.00,1036.04 L860.00,1035.98 L861.00,1035.92 L862.00,1035.85 L863.00,1035.79 L864.00,1035.73 L865.00,1035.67 L866.00,1035.60 L867.00,1035.54 L868.00,1035.47 L869.00,1035.41 L870.00,1035.34 L871.00,1035.28 L872.00,1035.21 L873.00,1035.15 L874.00,1035.08 L875.00,1035.01 L876.00,1034.94 L877.00,1034.88 L878.00,1034.81 L879.00,1034.74 L880.00,1034.67 L881.00,1034.60 L882.00,1034.52 L883.00,1034.45 L884.00,1034.38 L885.00,1034.31 L886.00,1034.23 L887.00,1034.16 L888.00,1034.08 L889.00,1034.01 L890.00,1033.93 L891.00,1033.86 L892.00,1033.78 L893.00,1033.70 L894.00,1033.62 L895.00,1033.54 L896.00,1033.46 L897.00,1033.38 L898.00,1033.30 L899.00,1033.21 L900.00,1033.13 L901.00,1033.04 L902.00,1032.96 L903.00,1032.87 L904.00,1032.78 L905.00,1032.69 L906.00,1032.60 L907.00,1032.51 L908.00,1032.42 L909.00,1032.32 L910.00,1032.23 L911.00,1032.13 L912.00,1032.03 L913.00,1031.93 L914.00,1031.83 L915.00,1031.73 L916.00,1031.62 L917.00,1031.52 L918.00,1031.41 L919.00,1031.30 L920.00,1031.19 L921.00,1031.07 L922.00,1030.96 L923.00,1030.84 L924.00,1030.72 L925.00,1030.59 L926.00,1030.47 L927.00,1030.34 L928.00,1030.21 L929.00,1030.07 L930.00,1029.93 L931.00,1029.79 L932.00,1029.64 L933.00,1029.49 L934.00,1029.34 L935.00,1029.18 L936.00,1029.01 L937.00,1028.84 L938.00,1028.67 L939.00,1028.49 L940.00,1028.30 L941.00,1028.11 L942.00,1027.91 L943.00,1027.71 L944.00,1027.49 L945.00,1027.27 L946.00,1027.04 L947.00,1026.81 L948.00,1026.56 L949.00,1026.30 L950.00,1026.03 L951.00,1025.75 L952.00,1025.46 L953.00,1025.16 L954.00,1024.85 L955.00,1024.52 L956.00,1024.18 L957.00,1023.82 L958.00,1023.45 L959.00,1023.06 L960.00,1022.65 L961.00,1022.22 L962.00,1021.78 L963.00,1021.32 L964.00,1020.83 L965.00,1020.32 L966.00,1019.79 L967.00,1019.23 L968.00,1018.65 L969.00,1018.05 L970.00,1017.41 L971.00,1016.75 L972.00,1016.05 L973.00,1015.33 L974.00,1014.57 L975.00,1013.77 L976.00,1012.95 L977.00,1012.08 L978.00,1011.18 L979.00,1010.23 L980.00,1009.25 L981.00,1008.22 L982.00,1007.15 L983.00,1006.03 L984.00,1004.86 L985.00,1003.65 L986.00,1002.39 L987.00,1001.07 L988.00,999.70 L989.00,998.28 L990.00,996.79 L991.00,995.26 L992.00,993.66 L993.00,992.00 L994.00,990.28 L995.00,988.49 L996.00,986.64 L997.00,984.73 L998.00,982.74 L999.00,980.69 L1000.00,978.57 L1001.00,976.38 L1002.00,974.11 L1003.00,971.77 L1004.00,969.36 L1005.00,966.88 L1006.00,964.32 L1007.00,961.68 L1008.00,958.97 L1009.00,956.18 L1010.00,953.32 L1011.00,950.38 L1012.00,947.37 L1013.00,944.27 L1014.00,941.11 L1015.00,937.86 L1016.00,934.55 L1017.00,931.16 L1018.00,927.69 L1019.00,924.16 L1020.00,920.56 L1021.00,916.88 L1022.00,913.14 L1023.00,909.34 L1024.00,905.47 L1025.00,901.54 L1026.00,897.56 L1027.00,893.52 L1028.00,889.42 L1029.00,885.28 L1030.00,881.09 L1031.00,876.85 L1032.00,872.58 L1033.00,868.27 L1034.00,863.93 L1035.00,859.56 L1036.00,855.17 L1037.00,850.77 L1038.00,846.34 L1039.00,841.91 L1040.00,837.48 L1041.00,833.05 L1042.00,828.63 L1043.00,824.22 L1044.00,819.83 L1045.00,815.46 L1046.00,811.13 L1047.00,806.84 L1048.00,802.59 L1049.00,798.39 L1050.00,794.25 L1051.00,790.18 L1052.00,786.19 L1053.00,782.27 L1054.00,778.44 L1055.00,774.70 L1056.00,771.07 L1057.00,767.55 L1058.00,764.14 L1059.00,760.87 L1060.00,757.72 L1061.00,754.71 L1062.00,751.85 L1063.00,749.14 L1064.00,746.60 L1065.00,744.22 L1066.00,742.01 L1067.00,739.98 L1068.00,738.14 L1069.00,736.49 L1070.00,735.03 L1071.00,733.77 L1072.00,732.71 L1073.00,731.85 L1074.00,731.20 L1075.00,730.77 L1076.00,730.54 L1077.00,730.52 L1078.00,730.71 L1079.00,731.12 L1080.00,731.73 L1081.00,732.55 L1082.00,733.57 L1083.00,734.80 L1084.00,736.22 L1085.00,737.84 L1086.00,739.64 L1087.00,741.63 L1088.00,743.80 L1089.00,746.13 L1090.00,748.64 L1091.00,751.30 L1092.00,754.12 L1093.00,757.08 L1094.00,760.19 L1095.00,763.42 L1096.00,766.77 L1097.00,770.25 L1098.00,773.83 L1099.00,777.51 L1100.00,781.29 L1101.00,785.16 L1102.00,789.10 L1103.00,793.12 L1104.00,797.20 L1105.00,801.34 L1106.00,805.53 L1107.00,809.77 L1108.00,814.04 L1109.00,818.34 L1110.00,822.67 L1111.00,827.02 L1112.00,831.38 L1113.00,835.75 L1114.00,840.11 L1115.00,844.48 L1116.00,848.84 L1117.00,853.18 L1118.00,857.50 L1119.00,861.80 L1120.00,866.07 L1121.00,870.31 L1122.00,874.51 L1123.00,878.68 L1124.00,882.80 L1125.00,886.87 L1126.00,890.89 L1127.00,894.86 L1128.00,898.78 L1129.00,902.63 L1130.00,906.43 L1131.00,910.16 L1132.00,913.82 L1133.00,917.42 L1134.00,920.95 L1135.00,924.41 L1136.00,927.80 L1137.00,931.12 L1138.00,934.36 L1139.00,937.52 L1140.00,940.62 L1141.00,943.63 L1142.00,946.57 L1143.00,949.44 L1144.00,952.23 L1145.00,954.94 L1146.00,957.58 L1147.00,960.14 L1148.00,962.62 L1149.00,965.03 L1150.00,967.37 L1151.00,969.63 L1152.00,971.82 L1153.00,973.94 L1154.00,975.99 L1155.00,977.96 L1156.00,979.87 L1157.00,981.72 L1158.00,983.49 L1159.00,985.20 L1160.00,986.85 L1161.00,988.44 L1162.00,989.96 L1163.00,991.43 L1164.00,992.84 L1165.00,994.19 L1166.00,995.49 L1167.00,996.73 L1168.00,997.93 L1169.00,999.07 L1170.00,1000.16 L1171.00,1001.21 L1172.00,1002.21 L1173.00,1003.17 L1174.00,1004.08 L1175.00,1004.96 L1176.00,1005.79 L1177.00,1006.59 L1178.00,1007.35 L1179.00,1008.07 L1180.00,1008.76 L1181.00,1009.42 L1182.00,1010.04 L1183.00,1010.64 L1184.00,1011.21 L1185.00,1011.74 L1186.00,1012.26 L1187.00,1012.75 L1188.00,1013.21 L1189.00,1013.65 L1190.00,1014.07 L1191.00,1014.47 L1192.00,1014.84 L1193.00,1015.20 L1194.00,1015.54 L1195.00,1015.86 L1196.00,1016.17 L1197.00,1016.46 L1198.00,1016.74 L1199.00,1017.00 L1200.00,1017.25 L1201.00,1017.48 L1202.00,1017.71 L1203.00,1017.92 L1204.00,1018.12 L1205.00,1018.31 L1206.00,1018.49 L1207.00,1018.67 L1208.00,1018.83 L1209.00,1018.99 L1210.00,1019.13 L1211.00,1019.27 L1212.00,1019.41 L1213.00,1019.54 L1214.00,1019.66 L1215.00,1019.77 L1216.00,1019.88 L1217.00,1019.98 L1218.00,1020.08 L1219.00,1020.18 L1220.00,1020.27 L1221.00,1020.35 L1222.00,1020.43 L1223.00,1020.51 L1224.00,1020.59 L1225.00,1020.66 L1226.00,1020.72 L1227.00,1020.79 L1228.00,1020.85 L1229.00,1020.91 L1230.00,1020.97 L1231.00,1021.02 L1232.00,1021.07 L1233.00,1021.12 L1234.00,1021.17 L1235.00,1021.21 L1236.00,1021.26 L1237.00,1021.30 L1238.00,1021.34 L1239.00,1021.38 L1240.00,1021.41 L1241.00,1021.45 L1242.00,1021.48 L1243.00,1021.51 L1244.00,1021.54 L1245.00,1021.57 L1246.00,1021.60 L1247.00,1021.63 L1248.00,1021.66 L1249.00,1021.68 L1250.00,1021.70 L1251.00,1021.73 L1252.00,1021.75 L1253.00,1021.77 L1254.00,1021.79 L1255.00,1021.81 L1256.00,1021.83 L1257.00,1021.84 L1258.00,1021.86 L1259.00,1021.87 L1260.00,1021.89 L1261.00,1021.90 L1262.00,1021.92 L1263.00,1021.93 L1264.00,1021.94 L1265.00,1021.95 L1266.00,1021.96 L1267.00,1021.97 L1268.00,1021.98 L1269.00,1021.99 L1270.00,1022.00 L1271.00,1022.00 L1272.00,1022.01 L1273.00,1022.02 L1274.00,1022.02 L1275.00,1022.03 L1276.00,1022.03 L1277.00,1022.04 L1278.00,1022.04 L1279.00,1022.04 L1280.00,1022.05 L1281.00,1022.05 L1282.00,1022.05 L1283.00,1022.05 L1284.00,1022.05 L1285.00,1022.05 L1286.00,1022.05 L1287.00,1022.05 L1288.00,1022.05 L1289.00,1022.05 L1290.00,1022.05 L1291.00,1022.04 L1292.00,1022.04 L1293.00,1022.04 L1294.00,1022.03 L1295.00,1022.03 L1296.00,1022.03 L1297.00,1022.02 L1298.00,1022.02 L1299.00,1022.01 L1300.00,1022.01 L1301.00,1022.00 L1302.00,1021.99 L1303.00,1021.99 L1304.00,1021.98 L1305.00,1021.97 L1306.00,1021.97 L1307.00,1021.96 L1308.00,1021.95 L1309.00,1021.94 L1310.00,1021.93 L1311.00,1021.92 L1311.00,1024.74 L1310.00,1024.77 L1309.00,1024.80 L1308.00,1024.84 L1307.00,1024.87 L1306.00,1024.90 L1305.00,1024.93 L1304.00,1024.96 L1303.00,1025.00 L1302.00,1025.03 L1301.00,1025.06 L1300.00,1025.09 L1299.00,1025.13 L1298.00,1025.16 L1297.00,1025.19 L1296.00,1025.22 L1295.00,1025.25 L1294.00,1025.29 L1293.00,1025.32 L1292.00,1025.35 L1291.00,1025.38 L1290.00,1025.42 L1289.00,1025.45 L1288.00,1025.48 L1287.00,1025.51 L1286.00,1025.54 L1285.00,1025.58 L1284.00,1025.61 L1283.00,1025.64 L1282.00,1025.67 L1281.00,1025.70 L1280.00,1025.74 L1279.00,1025.77 L1278.00,1025.80 L1277.00,1025.83 L1276.00,1025.87 L1275.00,1025.90 L1274.00,1025.93 L1273.00,1025.96 L1272.00,1025.99 L1271.00,1026.03 L1270.00,1026.06 L1269.00,1026.09 L1268.00,1026.12 L1267.00,1026.16 L1266.00,1026.19 L1265.00,1026.22 L1264.00,1026.25 L1263.00,1026.28 L1262.00,1026.32 L1261.00,1026.35 L1260.00,1026.38 L1259.00,1026.41 L1258.00,1026.45 L1257.00,1026.48 L1256.00,1026.51 L1255.00,1026.54 L1254.00,1026.57 L1253.00,1026.61 L1252.00,1026.64 L1251.00,1026.67 L1250.00,1026.70 L1249.00,1026.74 L1248.00,1026.77 L1247.00,1026.80 L1246.00,1026.83 L1245.00,1026.86 L1244.00,1026.90 L1243.00,1026.93 L1242.00,1026.96 L1241.00,1026.99 L1240.00,1027.03 L1239.00,1027.06 L1238.00,1027.09 L1237.00,1027.12 L1236.00,1027.15 L1235.00,1027.19 L1234.00,1027.22 L1233.00,1027.25 L1232.00,1027.28 L1231.00,1027.32 L1230.00,1027.35 L1229.00,1027.38 L1228.00,1027.41 L1227.00,1027.44 L1226.00,1027.48 L1225.00,1027.51 L1224.00,1027.54 L1223.00,1027.57 L1222.00,1027.60 L1221.00,1027.64 L1220.00,1027.67 L1219.00,1027.70 L1218.00,1027.73 L1217.00,1027.77 L1216.00,1027.80 L1215.00,1027.83 L1214.00,1027.86 L1213.00,1027.89 L1212.00,1027.93 L1211.00,1027.96 L1210.00,1027.99 L1209.00,1028.02 L1208.00,1028.06 L1207.00,1028.09 L1206.00,1028.12 L1205.00,1028.15 L1204.00,1028.18 L1203.00,1028.22 L1202.00,1028.25 L1201.00,1028.28 L1200.00,1028.31 L1199.00,1028.35 L1198.00,1028.38 L1197.00,1028.41 L1196.00,1028.44 L1195.00,1028.47 L1194.00,1028.51 L1193.00,1028.54 L1192.00,1028.57 L1191.00,1028.60 L1190.00,1028.64 L1189.00,1028.67 L1188.00,1028.70 L1187.00,1028.73 L1186.00,1028.76 L1185.00,1028.80 L1184.00,1028.83 L1183.00,1028.86 L1182.00,1028.89 L1181.00,1028.92 L1180.00,1028.96 L1179.00,1028.99 L1178.00,1029.02 L1177.00,1029.05 L1176.00,1029.09 L1175.00,1029.12 L1174.00,1029.15 L1173.00,1029.18 L1172.00,1029.21 L1171.00,1029.25 L1170.00,1029.28 L1169.00,1029.31 L1168.00,1029.34 L1167.00,1029.38 L1166.00,1029.41 L1165.00,1029.44 L1164.00,1029.47 L1163.00,1029.50 L1162.00,1029.54 L1161.00,1029.57 L1160.00,1029.60 L1159.00,1029.63 L1158.00,1029.67 L1157.00,1029.70 L1156.00,1029.73 L1155.00,1029.76 L1154.00,1029.79 L1153.00,1029.83 L1152.00,1029.86 L1151.00,1029.89 L1150.00,1029.92 L1149.00,1029.96 L1148.00,1029.99 L1147.00,1030.02 L1146.00,1030.05 L1145.00,1030.08 L1144.00,1030.12 L1143.00,1030.15 L1142.00,1030.18 L1141.00,1030.21 L1140.00,1030.25 L1139.00,1030.28 L1138.00,1030.31 L1137.00,1030.34 L1136.00,1030.37 L1135.00,1030.41 L1134.00,1030.44 L1133.00,1030.47 L1132.00,1030.50 L1131.00,1030.54 L1130.00,1030.57 L1129.00,1030.60 L1128.00,1030.63 L1127.00,1030.66 L1126.00,1030.70 L1125.00,1030.73 L1124.00,1030.76 L1123.00,1030.79 L1122.00,1030.82 L1121.00,1030.86 L1120.00,1030.89 L1119.00,1030.92 L1118.00,1030.95 L1117.00,1030.99 L1116.00,1031.02 L1115.00,1031.05 L1114.00,1031.08 L1113.00,1031.11 L1112.00,1031.15 L1111.00,1031.18 L1110.00,1031.21 L1109.00,1031.24 L1108.00,1031.28 L1107.00,1031.31 L1106.00,1031.34 L1105.00,1031.37 L1104.00,1031.40 L1103.00,1031.44 L1102.00,1031.47 L1101.00,1031.50 L1100.00,1031.53 L1099.00,1031.57 L1098.00,1031.60 L1097.00,1031.63 L1096.00,1031.66 L1095.00,1031.69 L1094.00,1031.73 L1093.00,1031.76 L1092.00,1031.79 L1091.00,1031.82 L1090.00,1031.86 L1089.00,1031.89 L1088.00,1031.92 L1087.00,1031.95 L1086.00,1031.98 L1085.00,1032.02 L1084.00,1032.05 L1083.00,1032.08 L1082.00,1032.11 L1081.00,1032.14 L1080.00,1032.18 L1079.00,1032.21 L1078.00,1032.24 L1077.00,1032.27 L1076.00,1032.31 L1075.00,1032.34 L1074.00,1032.37 L1073.00,1032.40 L1072.00,1032.43 L1071.00,1032.47 L1070.00,1032.50 L1069.00,1032.53 L1068.00,1032.56 L1067.00,1032.60 L1066.00,1032.63 L1065.00,1032.66 L1064.00,1032.69 L1063.00,1032.72 L1062.00,1032.76 L1061.00,1032.79 L1060.00,1032.82 L1059.00,1032.85 L1058.00,1032.89 L1057.00,1032.92 L1056.00,1032.95 L1055.00,1032.98 L1054.00,1033.01 L1053.00,1033.05 L1052.00,1033.08 L1051.00,1033.11 L1050.00,1033.14 L1049.00,1033.18 L1048.00,1033.21 L1047.00,1033.24 L1046.00,1033.27 L1045.00,1033.30 L1044.00,1033.34 L1043.00,1033.37 L1042.00,1033.40 L1041.00,1033.43 L1040.00,1033.47 L1039.00,1033.50 L1038.00,1033.53 L1037.00,1033.56 L1036.00,1033.59 L1035.00,1033.63 L1034.00,1033.66 L1033.00,1033.69 L1032.00,1033.72 L1031.00,1033.76 L1030.00,1033.79 L1029.00,1033.82 L1028.00,1033.85 L1027.00,1033.88 L1026.00,1033.92 L1025.00,1033.95 L1024.00,1033.98 L1023.00,1034.01 L1022.00,1034.04 L1021.00,1034.08 L1020.00,1034.11 L1019.00,1034.14 L1018.00,1034.17 L1017.00,1034.21 L1016.00,1034.24 L1015.00,1034.27 L1014.00,1034.30 L1013.00,1034.33 L1012.00,1034.37 L1011.00,1034.40 L1010.00,1034.43 L1009.00,1034.46 L1008.00,1034.50 L1007.00,1034.53 L1006.00,1034.56 L1005.00,1034.59 L1004.00,1034.62 L1003.00,1034.66 L1002.00,1034.69 L1001.00,1034.72 L1000.00,1034.75 L999.00,1034.79 L998.00,1034.82 L997.00,1034.85 L996.00,1034.88 L995.00,1034.91 L994.00,1034.95 L993.00,1034.98 L992.00,1035.01 L991.00,1035.04 L990.00,1035.08 L989.00,1035.11 L988.00,1035.14 L987.00,1035.17 L986.00,1035.20 L985.00,1035.24 L984.00,1035.27 L983.00,1035.30 L982.00,1035.33 L981.00,1035.37 L980.00,1035.40 L979.00,1035.43 L978.00,1035.46 L977.00,1035.49 L976.00,1035.53 L975.00,1035.56 L974.00,1035.59 L973.00,1035.62 L972.00,1035.65 L971.00,1035.69 L970.00,1035.72 L969.00,1035.75 L968.00,1035.78 L967.00,1035.82 L966.00,1035.85 L965.00,1035.88 L964.00,1035.91 L963.00,1035.94 L962.00,1035.98 L961.00,1036.01 L960.00,1036.04 L959.00,1036.07 L958.00,1036.11 L957.00,1036.14 L956.00,1036.17 L955.00,1036.20 L954.00,1036.23 L953.00,1036.27 L952.00,1036.30 L951.00,1036.33 L950.00,1036.36 L949.00,1036.40 L948.00,1036.43 L947.00,1036.46 L946.00,1036.49 L945.00,1036.52 L944.00,1036.56 L943.00,1036.59 L942.00,1036.62 L941.00,1036.65 L940.00,1036.69 L939.00,1036.72 L938.00,1036.75 L937.00,1036.78 L936.00,1036.81 L935.00,1036.85 L934.00,1036.88 L933.00,1036.91 L932.00,1036.94 L931.00,1036.97 L930.00,1037.01 L929.00,1037.04 L928.00,1037.07 L927.00,1037.10 L926.00,1037.14 L925.00,1037.17 L924.00,1037.20 L923.00,1037.23 L922.00,1037.26 L921.00,1037.30 L920.00,1037.33 L919.00,1037.36 L918.00,1037.39 L917.00,1037.43 L916.00,1037.46 L915.00,1037.49 L914.00,1037.52 L913.00,1037.55 L912.00,1037.59 L911.00,1037.62 L910.00,1037.65 L909.00,1037.68 L908.00,1037.72 L907.00,1037.75 L906.00,1037.78 L905.00,1037.81 L904.00,1037.84 L903.00,1037.88 L902.00,1037.91 L901.00,1037.94 L900.00,1037.97 L899.00,1038.01 L898.00,1038.04 L897.00,1038.07 L896.00,1038.10 L895.00,1038.13 L894.00,1038.17 L893.00,1038.20 L892.00,1038.23 L891.00,1038.26 L890.00,1038.30 L889.00,1038.33 L888.00,1038.36 L887.00,1038.39 L886.00,1038.42 L885.00,1038.46 L884.00,1038.49 L883.00,1038.52 L882.00,1038.55 L881.00,1038.59 L880.00,1038.62 L879.00,1038.65 L878.00,1038.68 L877.00,1038.71 L876.00,1038.75 L875.00,1038.78 L874.00,1038.81 L873.00,1038.84 L872.00,1038.87 L871.00,1038.91 L870.00,1038.94 L869.00,1038.97 L868.00,1039.00 L867.00,1039.04 L866.00,1039.07 L865.00,1039.10 L864.00,1039.13 L863.00,1039.16 L862.00,1039.20 L861.00,1039.23 L860.00,1039.26 L859.00,1039.29 L858.00,1039.33 L857.00,1039.36 L856.00,1039.39 L855.00,1039.42 L854.00,1039.45 L853.00,1039.49 L852.00,1039.52 L851.00,1039.55 L850.00,1039.58 L849.00,1039.62 L848.00,1039.65 L847.00,1039.68 L846.00,1039.71 L845.00,1039.74 L844.00,1039.78 L843.00,1039.81 L842.00,1039.84 L841.00,1039.87 L840.00,1039.91 L839.00,1039.94 L838.00,1039.97 L837.00,1040.00 L836.00,1040.03 L835.00,1040.07 L834.00,1040.10 L833.00,1040.13 L832.00,1040.16 L831.00,1040.19 L830.00,1040.23 L829.00,1040.26 L828.00,1040.29 L827.00,1040.32 L826.00,1040.36 L825.00,1040.39 L824.00,1040.42 L823.00,1040.45 L822.00,1040.48 L821.00,1040.52 L820.00,1040.55 L819.00,1040.58 L818.00,1040.61 L817.00,1040.65 L816.00,1040.68 L815.00,1040.71 L814.00,1040.74 L813.00,1040.77 L812.00,1040.81 L811.00,1040.84 L810.00,1040.87 L809.00,1040.90 L808.00,1040.94 L807.00,1040.97 L806.00,1041.00 Z" fill="url(#gcy)" stroke="#12c6c9" stroke-width="2" stroke-linejoin="round"/>
<path d="M806.00,1038.09 L807.00,1038.00 L808.00,1037.92 L809.00,1037.83 L810.00,1037.74 L811.00,1037.64 L812.00,1037.55 L813.00,1037.45 L814.00,1037.35 L815.00,1037.25 L816.00,1037.14 L817.00,1037.04 L818.00,1036.93 L819.00,1036.81 L820.00,1036.70 L821.00,1036.58 L822.00,1036.46 L823.00,1036.33 L824.00,1036.20 L825.00,1036.07 L826.00,1035.94 L827.00,1035.80 L828.00,1035.66 L829.00,1035.51 L830.00,1035.37 L831.00,1035.22 L832.00,1035.06 L833.00,1034.90 L834.00,1034.74 L835.00,1034.58 L836.00,1034.41 L837.00,1034.23 L838.00,1034.06 L839.00,1033.88 L840.00,1033.69 L841.00,1033.50 L842.00,1033.31 L843.00,1033.11 L844.00,1032.91 L845.00,1032.71 L846.00,1032.50 L847.00,1032.28 L848.00,1032.07 L849.00,1031.84 L850.00,1031.62 L851.00,1031.39 L852.00,1031.15 L853.00,1030.91 L854.00,1030.67 L855.00,1030.43 L856.00,1030.17 L857.00,1029.92 L858.00,1029.66 L859.00,1029.40 L860.00,1029.13 L861.00,1028.86 L862.00,1028.58 L863.00,1028.30 L864.00,1028.02 L865.00,1027.73 L866.00,1027.44 L867.00,1027.14 L868.00,1026.84 L869.00,1026.54 L870.00,1026.24 L871.00,1025.93 L872.00,1025.61 L873.00,1025.30 L874.00,1024.98 L875.00,1024.66 L876.00,1024.33 L877.00,1024.01 L878.00,1023.68 L879.00,1023.34 L880.00,1023.01 L881.00,1022.67 L882.00,1022.33 L883.00,1021.99 L884.00,1021.65 L885.00,1021.30 L886.00,1020.96 L887.00,1020.61 L888.00,1020.26 L889.00,1019.92 L890.00,1019.57 L891.00,1019.22 L892.00,1018.87 L893.00,1018.52 L894.00,1018.17 L895.00,1017.82 L896.00,1017.47 L897.00,1017.12 L898.00,1016.78 L899.00,1016.43 L900.00,1016.09 L901.00,1015.74 L902.00,1015.40 L903.00,1015.07 L904.00,1014.73 L905.00,1014.40 L906.00,1014.07 L907.00,1013.74 L908.00,1013.42 L909.00,1013.10 L910.00,1012.78 L911.00,1012.47 L912.00,1012.16 L913.00,1011.86 L914.00,1011.56 L915.00,1011.26 L916.00,1010.98 L917.00,1010.69 L918.00,1010.42 L919.00,1010.14 L920.00,1009.88 L921.00,1009.62 L922.00,1009.37 L923.00,1009.12 L924.00,1008.88 L925.00,1008.65 L926.00,1008.43 L927.00,1008.21 L928.00,1008.00 L929.00,1007.80 L930.00,1007.60 L931.00,1007.42 L932.00,1007.24 L933.00,1007.07 L934.00,1006.91 L935.00,1006.76 L936.00,1006.62 L937.00,1006.48 L938.00,1006.36 L939.00,1006.24 L940.00,1006.13 L941.00,1006.03 L942.00,1005.95 L943.00,1005.87 L944.00,1005.80 L945.00,1005.73 L946.00,1005.68 L947.00,1005.64 L948.00,1005.61 L949.00,1005.59 L950.00,1005.57 L951.00,1005.57 L952.00,1005.57 L953.00,1005.59 L954.00,1005.61 L955.00,1005.64 L956.00,1005.69 L957.00,1005.74 L958.00,1005.80 L959.00,1005.87 L960.00,1005.95 L961.00,1006.03 L962.00,1006.13 L963.00,1006.23 L964.00,1006.35 L965.00,1006.47 L966.00,1006.60 L967.00,1006.73 L968.00,1006.88 L969.00,1007.03 L970.00,1007.19 L971.00,1007.36 L972.00,1007.53 L973.00,1007.71 L974.00,1007.90 L975.00,1008.09 L976.00,1008.29 L977.00,1008.50 L978.00,1008.71 L979.00,1008.93 L980.00,1009.15 L981.00,1009.38 L982.00,1009.62 L983.00,1009.85 L984.00,1010.10 L985.00,1010.35 L986.00,1010.60 L987.00,1010.85 L988.00,1011.11 L989.00,1011.37 L990.00,1011.64 L991.00,1011.91 L992.00,1012.18 L993.00,1012.45 L994.00,1012.73 L995.00,1013.01 L996.00,1013.29 L997.00,1013.57 L998.00,1013.85 L999.00,1014.13 L1000.00,1014.42 L1001.00,1014.70 L1002.00,1014.99 L1003.00,1015.27 L1004.00,1015.56 L1005.00,1015.84 L1006.00,1016.13 L1007.00,1016.41 L1008.00,1016.69 L1009.00,1016.98 L1010.00,1017.26 L1011.00,1017.54 L1012.00,1017.82 L1013.00,1018.09 L1014.00,1018.37 L1015.00,1018.64 L1016.00,1018.91 L1017.00,1019.18 L1018.00,1019.44 L1019.00,1019.71 L1020.00,1019.97 L1021.00,1020.23 L1022.00,1020.48 L1023.00,1020.73 L1024.00,1020.98 L1025.00,1021.23 L1026.00,1021.47 L1027.00,1021.71 L1028.00,1021.94 L1029.00,1022.17 L1030.00,1022.40 L1031.00,1022.62 L1032.00,1022.84 L1033.00,1023.06 L1034.00,1023.27 L1035.00,1023.48 L1036.00,1023.68 L1037.00,1023.88 L1038.00,1024.07 L1039.00,1024.27 L1040.00,1024.45 L1041.00,1024.64 L1042.00,1024.81 L1043.00,1024.99 L1044.00,1025.16 L1045.00,1025.33 L1046.00,1025.49 L1047.00,1025.64 L1048.00,1025.80 L1049.00,1025.95 L1050.00,1026.09 L1051.00,1026.23 L1052.00,1026.37 L1053.00,1026.50 L1054.00,1026.63 L1055.00,1026.76 L1056.00,1026.88 L1057.00,1026.99 L1058.00,1027.11 L1059.00,1027.22 L1060.00,1027.32 L1061.00,1027.42 L1062.00,1027.52 L1063.00,1027.61 L1064.00,1027.70 L1065.00,1027.79 L1066.00,1027.88 L1067.00,1027.96 L1068.00,1028.03 L1069.00,1028.11 L1070.00,1028.18 L1071.00,1028.24 L1072.00,1028.31 L1073.00,1028.37 L1074.00,1028.42 L1075.00,1028.48 L1076.00,1028.53 L1077.00,1028.58 L1078.00,1028.63 L1079.00,1028.67 L1080.00,1028.71 L1081.00,1028.75 L1082.00,1028.79 L1083.00,1028.82 L1084.00,1028.85 L1085.00,1028.88 L1086.00,1028.91 L1087.00,1028.93 L1088.00,1028.95 L1089.00,1028.97 L1090.00,1028.99 L1091.00,1029.01 L1092.00,1029.02 L1093.00,1029.03 L1094.00,1029.04 L1095.00,1029.05 L1096.00,1029.06 L1097.00,1029.07 L1098.00,1029.07 L1099.00,1029.07 L1100.00,1029.07 L1101.00,1029.07 L1102.00,1029.07 L1103.00,1029.07 L1104.00,1029.07 L1105.00,1029.06 L1106.00,1029.05 L1107.00,1029.05 L1108.00,1029.04 L1109.00,1029.03 L1110.00,1029.02 L1111.00,1029.00 L1112.00,1028.99 L1113.00,1028.98 L1114.00,1028.96 L1115.00,1028.95 L1116.00,1028.93 L1117.00,1028.92 L1118.00,1028.90 L1119.00,1028.88 L1120.00,1028.86 L1121.00,1028.84 L1122.00,1028.82 L1123.00,1028.80 L1124.00,1028.78 L1125.00,1028.76 L1126.00,1028.73 L1127.00,1028.71 L1128.00,1028.69 L1129.00,1028.66 L1130.00,1028.64 L1131.00,1028.61 L1132.00,1028.59 L1133.00,1028.56 L1134.00,1028.54 L1135.00,1028.51 L1136.00,1028.48 L1137.00,1028.46 L1138.00,1028.43 L1139.00,1028.40 L1140.00,1028.38 L1141.00,1028.35 L1142.00,1028.32 L1143.00,1028.29 L1144.00,1028.26 L1145.00,1028.23 L1146.00,1028.20 L1147.00,1028.18 L1148.00,1028.15 L1149.00,1028.12 L1150.00,1028.09 L1151.00,1028.06 L1152.00,1028.03 L1153.00,1028.00 L1154.00,1027.97 L1155.00,1027.94 L1156.00,1027.91 L1157.00,1027.87 L1158.00,1027.84 L1159.00,1027.81 L1160.00,1027.78 L1161.00,1027.75 L1162.00,1027.72 L1163.00,1027.69 L1164.00,1027.66 L1165.00,1027.63 L1166.00,1027.60 L1167.00,1027.56 L1168.00,1027.53 L1169.00,1027.50 L1170.00,1027.47 L1171.00,1027.44 L1172.00,1027.41 L1173.00,1027.38 L1174.00,1027.34 L1175.00,1027.31 L1176.00,1027.28 L1177.00,1027.25 L1178.00,1027.22 L1179.00,1027.18 L1180.00,1027.15 L1181.00,1027.12 L1182.00,1027.09 L1183.00,1027.06 L1184.00,1027.03 L1185.00,1026.99 L1186.00,1026.96 L1187.00,1026.93 L1188.00,1026.90 L1189.00,1026.87 L1190.00,1026.83 L1191.00,1026.80 L1192.00,1026.77 L1193.00,1026.74 L1194.00,1026.70 L1195.00,1026.67 L1196.00,1026.64 L1197.00,1026.61 L1198.00,1026.58 L1199.00,1026.54 L1200.00,1026.51 L1201.00,1026.48 L1202.00,1026.45 L1203.00,1026.42 L1204.00,1026.38 L1205.00,1026.35 L1206.00,1026.32 L1207.00,1026.29 L1208.00,1026.26 L1209.00,1026.22 L1210.00,1026.19 L1211.00,1026.16 L1212.00,1026.13 L1213.00,1026.09 L1214.00,1026.06 L1215.00,1026.03 L1216.00,1026.00 L1217.00,1025.97 L1218.00,1025.93 L1219.00,1025.90 L1220.00,1025.87 L1221.00,1025.84 L1222.00,1025.80 L1223.00,1025.77 L1224.00,1025.74 L1225.00,1025.71 L1226.00,1025.68 L1227.00,1025.64 L1228.00,1025.61 L1229.00,1025.58 L1230.00,1025.55 L1231.00,1025.51 L1232.00,1025.48 L1233.00,1025.45 L1234.00,1025.42 L1235.00,1025.39 L1236.00,1025.35 L1237.00,1025.32 L1238.00,1025.29 L1239.00,1025.26 L1240.00,1025.23 L1241.00,1025.19 L1242.00,1025.16 L1243.00,1025.13 L1244.00,1025.10 L1245.00,1025.06 L1246.00,1025.03 L1247.00,1025.00 L1248.00,1024.97 L1249.00,1024.94 L1250.00,1024.90 L1251.00,1024.87 L1252.00,1024.84 L1253.00,1024.81 L1254.00,1024.77 L1255.00,1024.74 L1256.00,1024.71 L1257.00,1024.68 L1258.00,1024.65 L1259.00,1024.61 L1260.00,1024.58 L1261.00,1024.55 L1262.00,1024.52 L1263.00,1024.48 L1264.00,1024.45 L1265.00,1024.42 L1266.00,1024.39 L1267.00,1024.36 L1268.00,1024.32 L1269.00,1024.29 L1270.00,1024.26 L1271.00,1024.23 L1272.00,1024.19 L1273.00,1024.16 L1274.00,1024.13 L1275.00,1024.10 L1276.00,1024.07 L1277.00,1024.03 L1278.00,1024.00 L1279.00,1023.97 L1280.00,1023.94 L1281.00,1023.90 L1282.00,1023.87 L1283.00,1023.84 L1284.00,1023.81 L1285.00,1023.78 L1286.00,1023.74 L1287.00,1023.71 L1288.00,1023.68 L1289.00,1023.65 L1290.00,1023.62 L1291.00,1023.58 L1292.00,1023.55 L1293.00,1023.52 L1294.00,1023.49 L1295.00,1023.45 L1296.00,1023.42 L1297.00,1023.39 L1298.00,1023.36 L1299.00,1023.33 L1300.00,1023.29 L1301.00,1023.26 L1302.00,1023.23 L1303.00,1023.20 L1304.00,1023.16 L1305.00,1023.13 L1306.00,1023.10 L1307.00,1023.07 L1308.00,1023.04 L1309.00,1023.00 L1310.00,1022.97 L1311.00,1022.94 L1311.00,1022.94 L1310.00,1022.97 L1309.00,1023.00 L1308.00,1023.04 L1307.00,1023.07 L1306.00,1023.10 L1305.00,1023.13 L1304.00,1023.16 L1303.00,1023.20 L1302.00,1023.23 L1301.00,1023.26 L1300.00,1023.29 L1299.00,1023.33 L1298.00,1023.36 L1297.00,1023.39 L1296.00,1023.42 L1295.00,1023.45 L1294.00,1023.49 L1293.00,1023.52 L1292.00,1023.55 L1291.00,1023.58 L1290.00,1023.62 L1289.00,1023.65 L1288.00,1023.68 L1287.00,1023.71 L1286.00,1023.74 L1285.00,1023.78 L1284.00,1023.81 L1283.00,1023.84 L1282.00,1023.87 L1281.00,1023.90 L1280.00,1023.94 L1279.00,1023.97 L1278.00,1024.00 L1277.00,1024.03 L1276.00,1024.07 L1275.00,1024.10 L1274.00,1024.13 L1273.00,1024.16 L1272.00,1024.19 L1271.00,1024.23 L1270.00,1024.26 L1269.00,1024.29 L1268.00,1024.32 L1267.00,1024.36 L1266.00,1024.39 L1265.00,1024.42 L1264.00,1024.45 L1263.00,1024.48 L1262.00,1024.52 L1261.00,1024.55 L1260.00,1024.58 L1259.00,1024.61 L1258.00,1024.65 L1257.00,1024.68 L1256.00,1024.71 L1255.00,1024.74 L1254.00,1024.77 L1253.00,1024.81 L1252.00,1024.84 L1251.00,1024.87 L1250.00,1024.90 L1249.00,1024.94 L1248.00,1024.97 L1247.00,1025.00 L1246.00,1025.03 L1245.00,1025.06 L1244.00,1025.10 L1243.00,1025.13 L1242.00,1025.16 L1241.00,1025.19 L1240.00,1025.23 L1239.00,1025.26 L1238.00,1025.29 L1237.00,1025.32 L1236.00,1025.35 L1235.00,1025.39 L1234.00,1025.42 L1233.00,1025.45 L1232.00,1025.48 L1231.00,1025.51 L1230.00,1025.55 L1229.00,1025.58 L1228.00,1025.61 L1227.00,1025.64 L1226.00,1025.68 L1225.00,1025.71 L1224.00,1025.74 L1223.00,1025.77 L1222.00,1025.80 L1221.00,1025.84 L1220.00,1025.87 L1219.00,1025.90 L1218.00,1025.93 L1217.00,1025.97 L1216.00,1026.00 L1215.00,1026.03 L1214.00,1026.06 L1213.00,1026.09 L1212.00,1026.13 L1211.00,1026.16 L1210.00,1026.19 L1209.00,1026.22 L1208.00,1026.26 L1207.00,1026.29 L1206.00,1026.32 L1205.00,1026.35 L1204.00,1026.38 L1203.00,1026.42 L1202.00,1026.45 L1201.00,1026.48 L1200.00,1026.51 L1199.00,1026.55 L1198.00,1026.58 L1197.00,1026.61 L1196.00,1026.64 L1195.00,1026.67 L1194.00,1026.71 L1193.00,1026.74 L1192.00,1026.77 L1191.00,1026.80 L1190.00,1026.84 L1189.00,1026.87 L1188.00,1026.90 L1187.00,1026.93 L1186.00,1026.96 L1185.00,1027.00 L1184.00,1027.03 L1183.00,1027.06 L1182.00,1027.09 L1181.00,1027.12 L1180.00,1027.16 L1179.00,1027.19 L1178.00,1027.22 L1177.00,1027.25 L1176.00,1027.29 L1175.00,1027.32 L1174.00,1027.35 L1173.00,1027.38 L1172.00,1027.41 L1171.00,1027.45 L1170.00,1027.48 L1169.00,1027.51 L1168.00,1027.54 L1167.00,1027.58 L1166.00,1027.61 L1165.00,1027.64 L1164.00,1027.67 L1163.00,1027.70 L1162.00,1027.74 L1161.00,1027.77 L1160.00,1027.80 L1159.00,1027.83 L1158.00,1027.87 L1157.00,1027.90 L1156.00,1027.93 L1155.00,1027.96 L1154.00,1027.99 L1153.00,1028.03 L1152.00,1028.06 L1151.00,1028.09 L1150.00,1028.12 L1149.00,1028.16 L1148.00,1028.19 L1147.00,1028.22 L1146.00,1028.25 L1145.00,1028.28 L1144.00,1028.32 L1143.00,1028.35 L1142.00,1028.38 L1141.00,1028.41 L1140.00,1028.45 L1139.00,1028.48 L1138.00,1028.51 L1137.00,1028.54 L1136.00,1028.57 L1135.00,1028.61 L1134.00,1028.64 L1133.00,1028.67 L1132.00,1028.70 L1131.00,1028.73 L1130.00,1028.77 L1129.00,1028.80 L1128.00,1028.83 L1127.00,1028.86 L1126.00,1028.90 L1125.00,1028.93 L1124.00,1028.96 L1123.00,1028.99 L1122.00,1029.02 L1121.00,1029.06 L1120.00,1029.09 L1119.00,1029.12 L1118.00,1029.15 L1117.00,1029.19 L1116.00,1029.22 L1115.00,1029.25 L1114.00,1029.28 L1113.00,1029.31 L1112.00,1029.35 L1111.00,1029.38 L1110.00,1029.41 L1109.00,1029.44 L1108.00,1029.48 L1107.00,1029.51 L1106.00,1029.54 L1105.00,1029.57 L1104.00,1029.60 L1103.00,1029.64 L1102.00,1029.67 L1101.00,1029.70 L1100.00,1029.73 L1099.00,1029.77 L1098.00,1029.80 L1097.00,1029.83 L1096.00,1029.86 L1095.00,1029.89 L1094.00,1029.93 L1093.00,1029.96 L1092.00,1029.99 L1091.00,1030.02 L1090.00,1030.06 L1089.00,1030.09 L1088.00,1030.12 L1087.00,1030.15 L1086.00,1030.18 L1085.00,1030.22 L1084.00,1030.25 L1083.00,1030.28 L1082.00,1030.31 L1081.00,1030.34 L1080.00,1030.38 L1079.00,1030.41 L1078.00,1030.44 L1077.00,1030.47 L1076.00,1030.51 L1075.00,1030.54 L1074.00,1030.57 L1073.00,1030.60 L1072.00,1030.63 L1071.00,1030.67 L1070.00,1030.70 L1069.00,1030.73 L1068.00,1030.76 L1067.00,1030.80 L1066.00,1030.83 L1065.00,1030.86 L1064.00,1030.89 L1063.00,1030.92 L1062.00,1030.96 L1061.00,1030.99 L1060.00,1031.02 L1059.00,1031.05 L1058.00,1031.09 L1057.00,1031.12 L1056.00,1031.15 L1055.00,1031.18 L1054.00,1031.21 L1053.00,1031.25 L1052.00,1031.28 L1051.00,1031.31 L1050.00,1031.34 L1049.00,1031.38 L1048.00,1031.41 L1047.00,1031.44 L1046.00,1031.47 L1045.00,1031.50 L1044.00,1031.54 L1043.00,1031.57 L1042.00,1031.60 L1041.00,1031.63 L1040.00,1031.67 L1039.00,1031.70 L1038.00,1031.73 L1037.00,1031.76 L1036.00,1031.79 L1035.00,1031.83 L1034.00,1031.86 L1033.00,1031.89 L1032.00,1031.92 L1031.00,1031.95 L1030.00,1031.99 L1029.00,1032.02 L1028.00,1032.05 L1027.00,1032.08 L1026.00,1032.12 L1025.00,1032.15 L1024.00,1032.18 L1023.00,1032.21 L1022.00,1032.24 L1021.00,1032.28 L1020.00,1032.31 L1019.00,1032.34 L1018.00,1032.37 L1017.00,1032.41 L1016.00,1032.44 L1015.00,1032.47 L1014.00,1032.50 L1013.00,1032.53 L1012.00,1032.57 L1011.00,1032.60 L1010.00,1032.63 L1009.00,1032.66 L1008.00,1032.70 L1007.00,1032.73 L1006.00,1032.76 L1005.00,1032.79 L1004.00,1032.82 L1003.00,1032.86 L1002.00,1032.89 L1001.00,1032.92 L1000.00,1032.95 L999.00,1032.99 L998.00,1033.02 L997.00,1033.05 L996.00,1033.08 L995.00,1033.11 L994.00,1033.15 L993.00,1033.18 L992.00,1033.21 L991.00,1033.24 L990.00,1033.28 L989.00,1033.31 L988.00,1033.34 L987.00,1033.37 L986.00,1033.40 L985.00,1033.44 L984.00,1033.47 L983.00,1033.50 L982.00,1033.53 L981.00,1033.56 L980.00,1033.60 L979.00,1033.63 L978.00,1033.66 L977.00,1033.69 L976.00,1033.73 L975.00,1033.76 L974.00,1033.79 L973.00,1033.82 L972.00,1033.85 L971.00,1033.89 L970.00,1033.92 L969.00,1033.95 L968.00,1033.98 L967.00,1034.02 L966.00,1034.05 L965.00,1034.08 L964.00,1034.11 L963.00,1034.14 L962.00,1034.18 L961.00,1034.21 L960.00,1034.24 L959.00,1034.27 L958.00,1034.31 L957.00,1034.34 L956.00,1034.37 L955.00,1034.40 L954.00,1034.43 L953.00,1034.47 L952.00,1034.50 L951.00,1034.53 L950.00,1034.56 L949.00,1034.60 L948.00,1034.63 L947.00,1034.66 L946.00,1034.69 L945.00,1034.72 L944.00,1034.76 L943.00,1034.79 L942.00,1034.82 L941.00,1034.85 L940.00,1034.89 L939.00,1034.92 L938.00,1034.95 L937.00,1034.98 L936.00,1035.01 L935.00,1035.05 L934.00,1035.08 L933.00,1035.11 L932.00,1035.14 L931.00,1035.17 L930.00,1035.21 L929.00,1035.24 L928.00,1035.27 L927.00,1035.30 L926.00,1035.34 L925.00,1035.37 L924.00,1035.40 L923.00,1035.43 L922.00,1035.46 L921.00,1035.50 L920.00,1035.53 L919.00,1035.56 L918.00,1035.59 L917.00,1035.63 L916.00,1035.66 L915.00,1035.69 L914.00,1035.72 L913.00,1035.75 L912.00,1035.79 L911.00,1035.82 L910.00,1035.85 L909.00,1035.88 L908.00,1035.92 L907.00,1035.95 L906.00,1035.98 L905.00,1036.01 L904.00,1036.04 L903.00,1036.08 L902.00,1036.11 L901.00,1036.14 L900.00,1036.17 L899.00,1036.21 L898.00,1036.24 L897.00,1036.27 L896.00,1036.30 L895.00,1036.33 L894.00,1036.37 L893.00,1036.40 L892.00,1036.43 L891.00,1036.46 L890.00,1036.50 L889.00,1036.53 L888.00,1036.56 L887.00,1036.59 L886.00,1036.62 L885.00,1036.66 L884.00,1036.69 L883.00,1036.72 L882.00,1036.75 L881.00,1036.78 L880.00,1036.82 L879.00,1036.85 L878.00,1036.88 L877.00,1036.91 L876.00,1036.95 L875.00,1036.98 L874.00,1037.01 L873.00,1037.04 L872.00,1037.07 L871.00,1037.11 L870.00,1037.14 L869.00,1037.17 L868.00,1037.20 L867.00,1037.24 L866.00,1037.27 L865.00,1037.30 L864.00,1037.33 L863.00,1037.36 L862.00,1037.40 L861.00,1037.43 L860.00,1037.46 L859.00,1037.49 L858.00,1037.53 L857.00,1037.56 L856.00,1037.59 L855.00,1037.62 L854.00,1037.65 L853.00,1037.69 L852.00,1037.72 L851.00,1037.75 L850.00,1037.78 L849.00,1037.82 L848.00,1037.85 L847.00,1037.88 L846.00,1037.91 L845.00,1037.94 L844.00,1037.98 L843.00,1038.01 L842.00,1038.04 L841.00,1038.07 L840.00,1038.11 L839.00,1038.14 L838.00,1038.17 L837.00,1038.20 L836.00,1038.23 L835.00,1038.27 L834.00,1038.30 L833.00,1038.33 L832.00,1038.36 L831.00,1038.39 L830.00,1038.43 L829.00,1038.46 L828.00,1038.49 L827.00,1038.52 L826.00,1038.56 L825.00,1038.59 L824.00,1038.62 L823.00,1038.65 L822.00,1038.68 L821.00,1038.72 L820.00,1038.75 L819.00,1038.78 L818.00,1038.81 L817.00,1038.85 L816.00,1038.88 L815.00,1038.91 L814.00,1038.94 L813.00,1038.97 L812.00,1039.01 L811.00,1039.04 L810.00,1039.07 L809.00,1039.10 L808.00,1039.14 L807.00,1039.17 L806.00,1039.20 Z" fill="url(#gpu)" stroke="#a25fd8" stroke-width="2" stroke-linejoin="round"/>
<path d="M806.00,1032.08 L807.00,1031.99 L808.00,1031.90 L809.00,1031.80 L810.00,1031.71 L811.00,1031.61 L812.00,1031.51 L813.00,1031.40 L814.00,1031.29 L815.00,1031.18 L816.00,1031.07 L817.00,1030.96 L818.00,1030.84 L819.00,1030.72 L820.00,1030.60 L821.00,1030.47 L822.00,1030.34 L823.00,1030.21 L824.00,1030.07 L825.00,1029.93 L826.00,1029.79 L827.00,1029.64 L828.00,1029.49 L829.00,1029.34 L830.00,1029.18 L831.00,1029.02 L832.00,1028.86 L833.00,1028.69 L834.00,1028.52 L835.00,1028.35 L836.00,1028.17 L837.00,1027.98 L838.00,1027.80 L839.00,1027.61 L840.00,1027.41 L841.00,1027.21 L842.00,1027.01 L843.00,1026.80 L844.00,1026.59 L845.00,1026.37 L846.00,1026.15 L847.00,1025.93 L848.00,1025.70 L849.00,1025.46 L850.00,1025.23 L851.00,1024.98 L852.00,1024.74 L853.00,1024.48 L854.00,1024.23 L855.00,1023.97 L856.00,1023.70 L857.00,1023.44 L858.00,1023.16 L859.00,1022.88 L860.00,1022.60 L861.00,1022.32 L862.00,1022.03 L863.00,1021.73 L864.00,1021.43 L865.00,1021.13 L866.00,1020.82 L867.00,1020.51 L868.00,1020.20 L869.00,1019.88 L870.00,1019.55 L871.00,1019.23 L872.00,1018.90 L873.00,1018.56 L874.00,1018.23 L875.00,1017.89 L876.00,1017.54 L877.00,1017.20 L878.00,1016.85 L879.00,1016.50 L880.00,1016.14 L881.00,1015.78 L882.00,1015.42 L883.00,1015.06 L884.00,1014.70 L885.00,1014.33 L886.00,1013.97 L887.00,1013.60 L888.00,1013.23 L889.00,1012.85 L890.00,1012.48 L891.00,1012.11 L892.00,1011.73 L893.00,1011.36 L894.00,1010.98 L895.00,1010.61 L896.00,1010.23 L897.00,1009.86 L898.00,1009.48 L899.00,1009.11 L900.00,1008.73 L901.00,1008.36 L902.00,1007.99 L903.00,1007.62 L904.00,1007.25 L905.00,1006.89 L906.00,1006.52 L907.00,1006.16 L908.00,1005.80 L909.00,1005.45 L910.00,1005.09 L911.00,1004.74 L912.00,1004.40 L913.00,1004.05 L914.00,1003.71 L915.00,1003.38 L916.00,1003.04 L917.00,1002.71 L918.00,1002.39 L919.00,1002.07 L920.00,1001.75 L921.00,1001.44 L922.00,1001.14 L923.00,1000.83 L924.00,1000.54 L925.00,1000.25 L926.00,999.96 L927.00,999.68 L928.00,999.40 L929.00,999.12 L930.00,998.86 L931.00,998.59 L932.00,998.34 L933.00,998.08 L934.00,997.83 L935.00,997.59 L936.00,997.35 L937.00,997.11 L938.00,996.88 L939.00,996.65 L940.00,996.42 L941.00,996.20 L942.00,995.98 L943.00,995.77 L944.00,995.55 L945.00,995.34 L946.00,995.13 L947.00,994.91 L948.00,994.70 L949.00,994.49 L950.00,994.28 L951.00,994.07 L952.00,993.85 L953.00,993.63 L954.00,993.41 L955.00,993.18 L956.00,992.95 L957.00,992.71 L958.00,992.46 L959.00,992.21 L960.00,991.94 L961.00,991.67 L962.00,991.39 L963.00,991.09 L964.00,990.78 L965.00,990.45 L966.00,990.11 L967.00,989.75 L968.00,989.37 L969.00,988.97 L970.00,988.55 L971.00,988.11 L972.00,987.64 L973.00,987.15 L974.00,986.63 L975.00,986.07 L976.00,985.49 L977.00,984.87 L978.00,984.22 L979.00,983.54 L980.00,982.81 L981.00,982.05 L982.00,981.24 L983.00,980.39 L984.00,979.49 L985.00,978.55 L986.00,977.55 L987.00,976.51 L988.00,975.41 L989.00,974.26 L990.00,973.05 L991.00,971.78 L992.00,970.45 L993.00,969.06 L994.00,967.61 L995.00,966.09 L996.00,964.50 L997.00,962.85 L998.00,961.12 L999.00,959.33 L1000.00,957.46 L1001.00,955.51 L1002.00,953.49 L1003.00,951.40 L1004.00,949.23 L1005.00,946.98 L1006.00,944.65 L1007.00,942.24 L1008.00,939.75 L1009.00,937.18 L1010.00,934.53 L1011.00,931.79 L1012.00,928.98 L1013.00,926.09 L1014.00,923.12 L1015.00,920.06 L1016.00,916.93 L1017.00,913.72 L1018.00,910.44 L1019.00,907.08 L1020.00,903.64 L1021.00,900.14 L1022.00,896.56 L1023.00,892.91 L1024.00,889.20 L1025.00,885.43 L1026.00,881.59 L1027.00,877.70 L1028.00,873.76 L1029.00,869.76 L1030.00,865.71 L1031.00,861.62 L1032.00,857.50 L1033.00,853.33 L1034.00,849.14 L1035.00,844.92 L1036.00,840.67 L1037.00,836.42 L1038.00,832.14 L1039.00,827.87 L1040.00,823.59 L1041.00,819.32 L1042.00,815.06 L1043.00,810.81 L1044.00,806.59 L1045.00,802.40 L1046.00,798.24 L1047.00,794.13 L1048.00,790.06 L1049.00,786.05 L1050.00,782.10 L1051.00,778.23 L1052.00,774.43 L1053.00,770.71 L1054.00,767.08 L1055.00,763.55 L1056.00,760.12 L1057.00,756.81 L1058.00,753.61 L1059.00,750.54 L1060.00,747.60 L1061.00,744.79 L1062.00,742.14 L1063.00,739.63 L1064.00,737.28 L1065.00,735.09 L1066.00,733.07 L1067.00,731.22 L1068.00,729.54 L1069.00,728.05 L1070.00,726.75 L1071.00,725.63 L1072.00,724.71 L1073.00,723.98 L1074.00,723.45 L1075.00,723.12 L1076.00,722.98 L1077.00,723.05 L1078.00,723.32 L1079.00,723.78 L1080.00,724.45 L1081.00,725.31 L1082.00,726.37 L1083.00,727.62 L1084.00,729.06 L1085.00,730.68 L1086.00,732.49 L1087.00,734.48 L1088.00,736.63 L1089.00,738.96 L1090.00,741.45 L1091.00,744.10 L1092.00,746.90 L1093.00,749.84 L1094.00,752.92 L1095.00,756.14 L1096.00,759.48 L1097.00,762.94 L1098.00,766.51 L1099.00,770.19 L1100.00,773.97 L1101.00,777.84 L1102.00,781.80 L1103.00,785.83 L1104.00,789.94 L1105.00,794.10 L1106.00,798.33 L1107.00,802.61 L1108.00,806.93 L1109.00,811.29 L1110.00,815.68 L1111.00,820.10 L1112.00,824.54 L1113.00,828.99 L1114.00,833.45 L1115.00,837.91 L1116.00,842.36 L1117.00,846.81 L1118.00,851.24 L1119.00,855.66 L1120.00,860.05 L1121.00,864.41 L1122.00,868.74 L1123.00,873.03 L1124.00,877.28 L1125.00,881.49 L1126.00,885.65 L1127.00,889.75 L1128.00,893.81 L1129.00,897.80 L1130.00,901.73 L1131.00,905.60 L1132.00,909.41 L1133.00,913.14 L1134.00,916.81 L1135.00,920.40 L1136.00,923.92 L1137.00,927.37 L1138.00,930.74 L1139.00,934.04 L1140.00,937.25 L1141.00,940.39 L1142.00,943.45 L1143.00,946.43 L1144.00,949.32 L1145.00,952.14 L1146.00,954.88 L1147.00,957.54 L1148.00,960.12 L1149.00,962.63 L1150.00,965.05 L1151.00,967.40 L1152.00,969.67 L1153.00,971.86 L1154.00,973.98 L1155.00,976.03 L1156.00,978.00 L1157.00,979.90 L1158.00,981.74 L1159.00,983.50 L1160.00,985.20 L1161.00,986.83 L1162.00,988.39 L1163.00,989.90 L1164.00,991.34 L1165.00,992.72 L1166.00,994.04 L1167.00,995.31 L1168.00,996.53 L1169.00,997.69 L1170.00,998.79 L1171.00,999.85 L1172.00,1000.86 L1173.00,1001.82 L1174.00,1002.74 L1175.00,1003.62 L1176.00,1004.45 L1177.00,1005.24 L1178.00,1005.99 L1179.00,1006.71 L1180.00,1007.39 L1181.00,1008.04 L1182.00,1008.65 L1183.00,1009.23 L1184.00,1009.78 L1185.00,1010.30 L1186.00,1010.79 L1187.00,1011.26 L1188.00,1011.70 L1189.00,1012.12 L1190.00,1012.52 L1191.00,1012.89 L1192.00,1013.24 L1193.00,1013.58 L1194.00,1013.89 L1195.00,1014.19 L1196.00,1014.46 L1197.00,1014.73 L1198.00,1014.97 L1199.00,1015.21 L1200.00,1015.43 L1201.00,1015.63 L1202.00,1015.83 L1203.00,1016.01 L1204.00,1016.18 L1205.00,1016.34 L1206.00,1016.50 L1207.00,1016.64 L1208.00,1016.77 L1209.00,1016.90 L1210.00,1017.02 L1211.00,1017.13 L1212.00,1017.23 L1213.00,1017.33 L1214.00,1017.42 L1215.00,1017.51 L1216.00,1017.59 L1217.00,1017.67 L1218.00,1017.74 L1219.00,1017.80 L1220.00,1017.87 L1221.00,1017.92 L1222.00,1017.98 L1223.00,1018.03 L1224.00,1018.08 L1225.00,1018.12 L1226.00,1018.17 L1227.00,1018.21 L1228.00,1018.24 L1229.00,1018.28 L1230.00,1018.31 L1231.00,1018.34 L1232.00,1018.37 L1233.00,1018.40 L1234.00,1018.42 L1235.00,1018.44 L1236.00,1018.46 L1237.00,1018.48 L1238.00,1018.50 L1239.00,1018.52 L1240.00,1018.54 L1241.00,1018.55 L1242.00,1018.57 L1243.00,1018.58 L1244.00,1018.59 L1245.00,1018.60 L1246.00,1018.61 L1247.00,1018.62 L1248.00,1018.63 L1249.00,1018.63 L1250.00,1018.64 L1251.00,1018.65 L1252.00,1018.65 L1253.00,1018.66 L1254.00,1018.66 L1255.00,1018.66 L1256.00,1018.67 L1257.00,1018.67 L1258.00,1018.67 L1259.00,1018.67 L1260.00,1018.67 L1261.00,1018.67 L1262.00,1018.67 L1263.00,1018.67 L1264.00,1018.67 L1265.00,1018.66 L1266.00,1018.66 L1267.00,1018.66 L1268.00,1018.66 L1269.00,1018.65 L1270.00,1018.65 L1271.00,1018.64 L1272.00,1018.64 L1273.00,1018.63 L1274.00,1018.63 L1275.00,1018.62 L1276.00,1018.62 L1277.00,1018.61 L1278.00,1018.60 L1279.00,1018.59 L1280.00,1018.59 L1281.00,1018.58 L1282.00,1018.57 L1283.00,1018.56 L1284.00,1018.55 L1285.00,1018.55 L1286.00,1018.54 L1287.00,1018.53 L1288.00,1018.52 L1289.00,1018.51 L1290.00,1018.50 L1291.00,1018.49 L1292.00,1018.48 L1293.00,1018.47 L1294.00,1018.45 L1295.00,1018.44 L1296.00,1018.43 L1297.00,1018.42 L1298.00,1018.41 L1299.00,1018.39 L1300.00,1018.38 L1301.00,1018.37 L1302.00,1018.36 L1303.00,1018.34 L1304.00,1018.33 L1305.00,1018.32 L1306.00,1018.30 L1307.00,1018.29 L1308.00,1018.28 L1309.00,1018.26 L1310.00,1018.25 L1311.00,1018.23" fill="none" stroke="#ea3d3f" stroke-width="4.8" stroke-linejoin="round"/>
</g>
<line x1="805.00" y1="661.00" x2="1312.00" y2="661.00" stroke="#000" stroke-width="2" />
<line x1="806.00" y1="661.00" x2="806.00" y2="1075.00" stroke="#000" stroke-width="2" />
<line x1="805.00" y1="1074.00" x2="1312.00" y2="1074.00" stroke="#000" stroke-width="2" />
<line x1="1311.00" y1="660.00" x2="1311.00" y2="1075.00" stroke="#000" stroke-width="2" />
<line x1="833.50" y1="1074.00" x2="833.50" y2="1081.50" stroke="#000" stroke-width="2" />
<line x1="893.18" y1="1074.00" x2="893.18" y2="1077.50" stroke="#000" stroke-width="2" />
<line x1="952.87" y1="1074.00" x2="952.87" y2="1081.50" stroke="#000" stroke-width="2" />
<line x1="1012.56" y1="1074.00" x2="1012.56" y2="1077.50" stroke="#000" stroke-width="2" />
<line x1="1072.24" y1="1074.00" x2="1072.24" y2="1081.50" stroke="#000" stroke-width="2" />
<line x1="1131.92" y1="1074.00" x2="1131.92" y2="1077.50" stroke="#000" stroke-width="2" />
<line x1="1191.61" y1="1074.00" x2="1191.61" y2="1081.50" stroke="#000" stroke-width="2" />
<line x1="1251.30" y1="1074.00" x2="1251.30" y2="1077.50" stroke="#000" stroke-width="2" />
<line x1="1310.98" y1="1074.00" x2="1310.98" y2="1081.50" stroke="#000" stroke-width="2" />
<text x="833.50" y="1119.50" font-size="45" text-anchor="middle" fill="#000" >235</text>
<text x="952.87" y="1119.50" font-size="45" text-anchor="middle" fill="#000" >232</text>
<text x="1072.24" y="1119.50" font-size="45" text-anchor="middle" fill="#000" >229</text>
<text x="1191.61" y="1119.50" font-size="45" text-anchor="middle" fill="#000" >226</text>
<text x="1310.98" y="1119.50" font-size="45" text-anchor="middle" fill="#000" >223</text>
<text x="1059.30" y="1170.00" font-size="45" text-anchor="middle" fill="#000" >Binding Energy (eV)</text>
<text transform="translate(777.3,1050.5) rotate(-90)" font-size="42.5" fill="#000">Intensity (Counts)</text>
<text x="741.00" y="668.00" font-size="57" text-anchor="start" fill="#000" font-weight="bold">d</text>
<circle cx="850" cy="685.6" r="3.5" fill="none" stroke="#3e3e3e" stroke-width="1.6"/>
<text x="885.50" y="693.20" font-size="26" text-anchor="start" fill="#000" >Original Data</text>
<line x1="821.00" y1="716.20" x2="879.30" y2="716.20" stroke="#ea3d3f" stroke-width="6" />
<text x="885.70" y="724.40" font-size="26" text-anchor="start" fill="#000" >Sum Peak</text>
<line x1="821.00" y1="746.10" x2="879.30" y2="746.10" stroke="#000" stroke-width="6" />
<text x="885.50" y="754.60" font-size="26" text-anchor="start" fill="#000" >Background</text>
<text x="1141.5" y="755" font-size="20.5" fill="#17c3c8">Mo<tspan font-size="14" dy="-9.5">2+</tspan><tspan dy="9.5"> 3</tspan><tspan font-style="italic">d</tspan><tspan font-size="14" dy="5">5/2</tspan></text>
<text x="840.8" y="948.6" font-size="20.5" fill="#a874dc">Mo<tspan font-size="14" dy="-9.5">2+</tspan><tspan dy="9.5"> 3</tspan><tspan font-style="italic">d</tspan><tspan font-size="14" dy="5">3/2</tspan></text>
<path d="M1076.4,781 Q1130,782 1166,769" fill="none" stroke="#17c3c8" stroke-width="3"/>
<polygon points="1176,763.5 1161.5,765.5 1168,775.5" fill="#17c3c8"/>
<path d="M947.2,1014.8 Q942,985 929,968" fill="none" stroke="#a874dc" stroke-width="3"/>
<polygon points="920.6,960.6 934.5,967.5 926.5,974" fill="#a874dc"/>
</svg></body></html>
